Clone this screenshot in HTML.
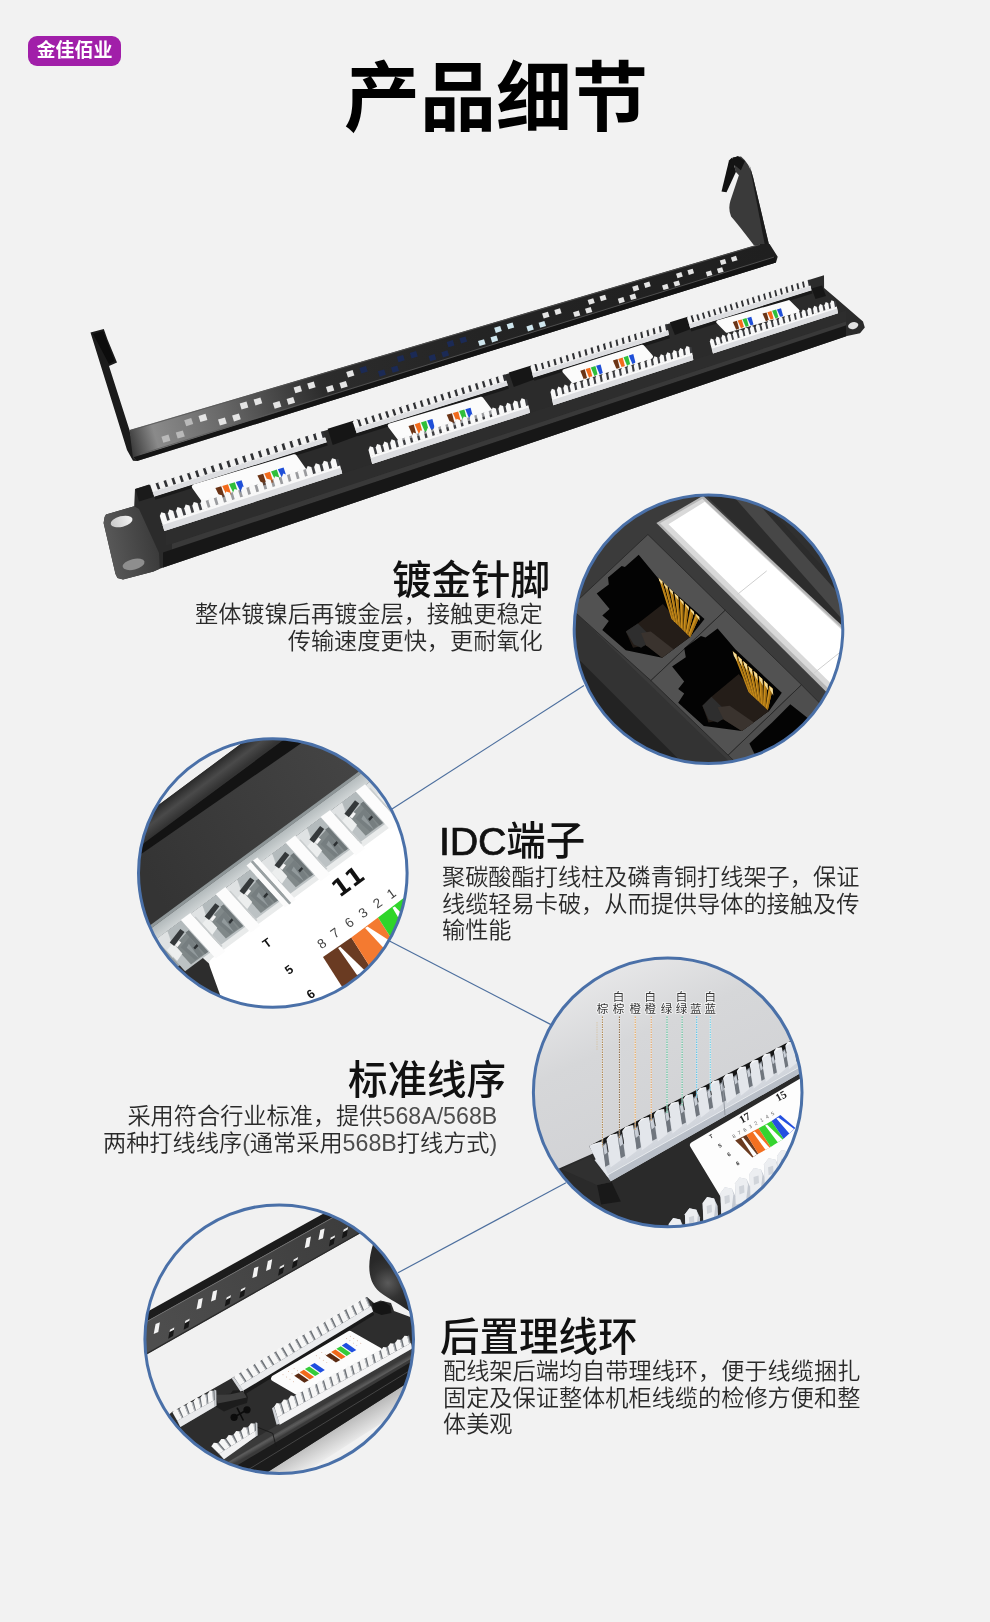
<!DOCTYPE html>
<html lang="zh-CN">
<head>
<meta charset="utf-8">
<title>产品细节</title>
<style>
html,body{margin:0;padding:0;}
body{width:990px;height:1622px;background:#f2f2f2;position:relative;overflow:hidden;font-family:"Liberation Sans","Noto Sans CJK SC",sans-serif;color:#222;}
.abs{position:absolute;will-change:transform;}
.badge{left:28px;top:36px;width:93px;height:30px;border-radius:9px;background:#a11fa9;color:#fff;font-weight:700;font-size:19px;line-height:30px;text-align:center;letter-spacing:0px;}
.title{left:1px;width:990px;top:43.5px;text-align:center;font-size:76px;line-height:110px;font-weight:700;color:#000;letter-spacing:0;}
.h{font-size:39.5px;line-height:48px;font-weight:500;color:#111;white-space:nowrap;}
.p{font-size:23.2px;line-height:26.7px;font-weight:350;color:#2a2a2a;white-space:nowrap;}
.r{text-align:right;}
.l{color:#4d4d4d;}
svg{position:absolute;left:0;top:0;will-change:transform;}
.wl{font-family:"Liberation Sans","Noto Sans CJK SC",sans-serif;font-size:11.5px;fill:#333;stroke:#fff;stroke-width:1.6px;stroke-opacity:.75;paint-order:stroke;}
</style>
</head>
<body>
<svg id="art" width="990" height="1622" viewBox="0 0 990 1622">
<defs>
<clipPath id="c1"><circle cx="708.5" cy="629.3" r="134"/></clipPath>
<clipPath id="c2"><circle cx="272.8" cy="873" r="134"/></clipPath>
<clipPath id="c3"><circle cx="667.7" cy="1092.4" r="134"/></clipPath>
<clipPath id="c4"><circle cx="279.2" cy="1339.2" r="134"/></clipPath>
<linearGradient id="barg" gradientUnits="userSpaceOnUse" x1="130" y1="445" x2="770" y2="255">
<stop offset="0" stop-color="#3a3a3a"/><stop offset="0.04" stop-color="#8a8a8a"/><stop offset="0.14" stop-color="#6a6a6a"/><stop offset="0.3" stop-color="#2c2c2c"/><stop offset="0.55" stop-color="#242424"/><stop offset="1" stop-color="#1f1f1f"/></linearGradient>
<linearGradient id="earg" gradientUnits="userSpaceOnUse" x1="104" y1="540" x2="160" y2="530">
<stop offset="0" stop-color="#5a5a5a"/><stop offset="1" stop-color="#383838"/></linearGradient>
<linearGradient id="holeg" gradientUnits="userSpaceOnUse" x1="110" y1="522" x2="133" y2="520">
<stop offset="0" stop-color="#c9c9c9"/><stop offset="1" stop-color="#f4f4f4"/></linearGradient>
<linearGradient id="c2face" gradientUnits="userSpaceOnUse" x1="150" y1="880" x2="380" y2="760">
<stop offset="0" stop-color="#343434"/><stop offset="1" stop-color="#464646"/></linearGradient>
<linearGradient id="c2strip" gradientUnits="userSpaceOnUse" x1="200" y1="775" x2="212" y2="791">
<stop offset="0" stop-color="#2c2c2c"/><stop offset="0.5" stop-color="#4a4a4a"/><stop offset="1" stop-color="#333"/></linearGradient>
<linearGradient id="c2wall" gradientUnits="userSpaceOnUse" x1="151" y1="924.6" x2="160" y2="936.7">
<stop offset="0" stop-color="#aab2b4"/><stop offset="1" stop-color="#cfd4d5"/></linearGradient>
<linearGradient id="c2cav" gradientUnits="userSpaceOnUse" x1="160" y1="936" x2="184" y2="969">
<stop offset="0" stop-color="#b4bbbd"/><stop offset="1" stop-color="#8b9395"/></linearGradient>
<linearGradient id="c3bg" gradientUnits="userSpaceOnUse" x1="600" y1="960" x2="700" y2="1180">
<stop offset="0" stop-color="#e9e9ea"/><stop offset="0.35" stop-color="#d6d7d9"/><stop offset="1" stop-color="#cfd0d3"/></linearGradient>
<linearGradient id="c3row" gradientUnits="userSpaceOnUse" x1="600" y1="1150" x2="620" y2="1186">
<stop offset="0" stop-color="#dfe2e7"/><stop offset="1" stop-color="#c6cbd3"/></linearGradient>
<linearGradient id="c4bar" gradientUnits="userSpaceOnUse" x1="150" y1="1330" x2="370" y2="1210">
<stop offset="0" stop-color="#4e4e4e"/><stop offset="1" stop-color="#3b3b3b"/></linearGradient>
<linearGradient id="c4sh" gradientUnits="userSpaceOnUse" x1="330" y1="1430" x2="343" y2="1452">
<stop offset="0" stop-color="#b9b9b9"/><stop offset="1" stop-color="#f1f1f1"/></linearGradient>
<linearGradient id="c4hl" gradientUnits="userSpaceOnUse" x1="330" y1="1400" x2="334" y2="1407">
<stop offset="0" stop-color="#3a3a3a"/><stop offset="0.5" stop-color="#5c5c5c"/><stop offset="1" stop-color="#3a3a3a"/></linearGradient>
<radialGradient id="c4br" gradientUnits="userSpaceOnUse" cx="388" cy="1283" r="26">
<stop offset="0" stop-color="#5a5a5a"/><stop offset="0.6" stop-color="#333"/><stop offset="1" stop-color="#282828"/></radialGradient>
</defs>
<!-- connector lines -->
<g stroke="#4d6f9e" stroke-width="1.2" fill="none">
<line x1="392" y1="809" x2="584" y2="685.5"/>
<line x1="389" y1="940.7" x2="551" y2="1024.6"/>
<line x1="398" y1="1272.8" x2="566" y2="1182.7"/>
</g>
<!-- PRODUCT -->
<g id="product">
<polygon points="90.5,332.5 103.8,329.1 107.5,339.5 117,362.4 109,366 129.5,430.1 137,461 133,460.8 127,450" fill="#1b1b1b"/>
<polygon points="93,334 103,331 114.5,361 109,364" fill="#0c0c0c"/>
<path d="M732.5,157.3 L741.0,156.6 Q749.5,163.3 753.0,177.1 L769.3,246.0 L753.7,245.0 Q738.5,224.8 731.1,216.4 Q727.9,208.9 730.4,200.8 L738.9,175.3 L735.7,171.8 Z" fill="#3a3a3a"/>
<polygon points="731.8,157.7 736,171.8 726.5,192.3 721.5,191.6 729,160.5" fill="#121212"/>
<path d="M749.5,164.7 L753.0,177.1 L769.3,246.0 L765.0,246.0 Z" fill="#1b1b1b"/>
<polygon points="730.8,158.9 737.9,156.1 744.9,161.3 740.9,170.2 734.8,165.2 730.3,168.7 728.8,168.2" fill="#141414"/>
<polygon points="129.5,430.1 759.5,244 769.6,244 777.7,256.7 776,262.5 772,263.7 137,461 133,458" fill="url(#barg)"/>
<polygon points="133.5,457.3 775,256.8 776,262.5 772,263.7 137,461" fill="#141414"/>
<line x1="140" y1="454.3" x2="774" y2="257.1" stroke="#5a5a5a" stroke-width="0.8"/>
<line x1="131" y1="430.3" x2="760" y2="244.5" stroke="#555" stroke-width="0.8"/>
<polygon points="184.2,420.2 191.2,418.1 193.2,424.1 186.2,426.2" fill="#b9b9b9"/>
<polygon points="198.5,415.9 205.5,413.8 207.4,419.9 200.4,422" fill="#e4e4e4"/>
<polygon points="239.7,403.6 246.5,401.6 248.3,407.5 241.5,409.5" fill="#e4e4e4"/>
<polygon points="253.6,399.5 260.4,397.5 262.3,403.3 255.5,405.4" fill="#e4e4e4"/>
<polygon points="293.6,387.6 300.2,385.6 302,391.3 295.4,393.3" fill="#e4e4e4"/>
<polygon points="307.2,383.6 313.8,381.6 315.6,387.3 309,389.3" fill="#e4e4e4"/>
<polygon points="346.2,371.9 352.6,370 354.4,375.5 348,377.4" fill="#e4e4e4"/>
<polygon points="359.5,368 365.9,366.1 367.7,371.6 361.3,373.5" fill="#1b2a55"/>
<polygon points="396.8,356.8 403.1,355 404.8,360.3 398.5,362.2" fill="#1b2a55"/>
<polygon points="409.8,353 416.1,351.1 417.8,356.5 411.5,358.4" fill="#1b2a55"/>
<polygon points="446.7,342 452.8,340.1 454.5,345.4 448.4,347.2" fill="#1b2a55"/>
<polygon points="459.4,338.2 465.5,336.4 467.2,341.6 461.1,343.5" fill="#1b2a55"/>
<polygon points="494.2,327.8 500.2,326 501.8,331.1 495.8,332.9" fill="#cfe6ee"/>
<polygon points="506.6,324.2 512.6,322.4 514.2,327.5 508.3,329.3" fill="#cfe6ee"/>
<polygon points="542.1,313.6 547.9,311.8 549.5,316.8 543.7,318.5" fill="#e4e4e4"/>
<polygon points="554.3,310 560,308.2 561.6,313.2 555.8,314.9" fill="#e4e4e4"/>
<polygon points="587.6,300 593.2,298.3 594.8,303.1 589.2,304.8" fill="#e4e4e4"/>
<polygon points="599.5,296.5 605.1,294.8 606.6,299.6 601,301.3" fill="#e4e4e4"/>
<polygon points="632.2,286.7 637.7,285.1 639.2,289.8 633.7,291.4" fill="#e4e4e4"/>
<polygon points="643.8,283.3 649.3,281.6 650.8,286.3 645.3,288" fill="#e4e4e4"/>
<polygon points="676,273.7 681.3,272.1 682.8,276.6 677.5,278.2" fill="#e4e4e4"/>
<polygon points="687.4,270.3 692.7,268.7 694.1,273.3 688.8,274.9" fill="#e4e4e4"/>
<polygon points="719.8,260.6 725,259.1 726.4,263.5 721.2,265.1" fill="#e4e4e4"/>
<polygon points="730.9,257.4 736,255.8 737.5,260.2 732.3,261.8" fill="#e4e4e4"/>
<polygon points="161.4,436.7 168.5,434.6 170.4,440.7 163.3,442.8" fill="#b9b9b9"/>
<polygon points="175.8,432.5 182.8,430.4 184.8,436.4 177.7,438.6" fill="#b9b9b9"/>
<polygon points="218,419.6 224.9,417.5 226.8,423.5 219.9,425.5" fill="#e4e4e4"/>
<polygon points="232.1,415.5 238.9,413.4 240.8,419.3 234,421.4" fill="#e4e4e4"/>
<polygon points="272.8,403 279.5,401 281.4,406.8 274.7,408.8" fill="#e4e4e4"/>
<polygon points="286.6,399 293.2,397 295.1,402.7 288.4,404.7" fill="#e4e4e4"/>
<polygon points="325.9,387 332.5,385 334.3,390.6 327.7,392.6" fill="#e4e4e4"/>
<polygon points="339.4,383 345.9,381 347.7,386.6 341.2,388.6" fill="#e4e4e4"/>
<polygon points="377.9,371.3 384.2,369.4 385.9,374.8 379.6,376.7" fill="#1b2a55"/>
<polygon points="391,367.4 397.3,365.5 399,370.9 392.7,372.8" fill="#1b2a55"/>
<polygon points="428.5,356 434.6,354.1 436.3,359.4 430.2,361.3" fill="#1b2a55"/>
<polygon points="441.3,352.2 447.4,350.3 449.1,355.6 443,357.5" fill="#1b2a55"/>
<polygon points="478,341 484,339.2 485.6,344.3 479.6,346.1" fill="#cfe6ee"/>
<polygon points="490.5,337.3 496.5,335.5 498.1,340.6 492.1,342.4" fill="#cfe6ee"/>
<polygon points="526.4,326.4 532.2,324.6 533.8,329.6 528,331.4" fill="#cfe6ee"/>
<polygon points="538.6,322.7 544.4,321 546,326 540.2,327.8" fill="#cfe6ee"/>
<polygon points="573.1,312.2 578.8,310.5 580.3,315.4 574.6,317.1" fill="#e4e4e4"/>
<polygon points="585,308.7 590.7,307 592.3,311.9 586.6,313.6" fill="#e4e4e4"/>
<polygon points="617.8,298.7 623.3,297.1 624.8,301.8 619.3,303.5" fill="#e4e4e4"/>
<polygon points="629.5,295.3 635,293.6 636.5,298.4 631,300" fill="#e4e4e4"/>
<polygon points="662,285.4 667.3,283.7 668.8,288.4 663.5,290" fill="#e4e4e4"/>
<polygon points="673.4,282 678.8,280.4 680.2,285 674.9,286.6" fill="#e4e4e4"/>
<polygon points="705.8,272.1 711,270.5 712.4,275 707.2,276.6" fill="#e4e4e4"/>
<polygon points="716.9,268.8 722.1,267.2 723.6,271.7 718.4,273.3" fill="#e4e4e4"/>
<polygon points="104.6,517 106,514.5 134.2,506.2 135,489 149,484.5 150,485.2 824,275.2 824.1,288 837,299 863,321.5 864.8,327.5 860,333.2 847,336 159.7,568.7 153.5,571.5 123,579.6 117.5,578 115.5,574 103.6,523" fill="#2b2b2b"/>
<polygon points="104.6,517 106,514.5 134.2,506.2 139,509 159,553 159.7,568.7 153.5,571.5 123,579.6 117.5,578 115.5,574 103.6,523" fill="url(#earg)"/>
<ellipse cx="121.6" cy="521.5" rx="11.2" ry="5.3" transform="rotate(-14 121.6 521.5)" fill="url(#holeg)"/>
<ellipse cx="133.6" cy="564.3" rx="11.2" ry="5.3" transform="rotate(-14 133.6 564.3)" fill="#8e8e8e"/>
<ellipse cx="853.2" cy="325.6" rx="5.2" ry="3.4" transform="rotate(-14 853.2 325.6)" fill="#e2e2e2"/>
<polygon points="166,530.6 846,310.6 846,321.4 166,545.7" fill="#2d2d2d"/>
<polygon points="172,543.7 846,321.4 846,325.5 172,549.5" fill="#393939"/>
<polygon points="163,552.5 846,325.5 846,336.3 163,567.6" fill="#171717"/>
<polygon points="150.2,484.9 323.4,430.9 325.3,437.6 152.6,491.6" fill="#33363b" fill-opacity="0.6"/>
<polygon points="150.4,485.4 151.9,482.3 155.4,483 158,490.1 152.6,491.7" fill="#f3f3f3"/>
<polygon points="158.2,483 159.8,479.8 163.3,480.5 165.8,487.6 160.5,489.3" fill="#f3f3f3"/>
<polygon points="166.1,480.5 167.7,477.4 171.2,478.1 173.7,485.2 168.3,486.8" fill="#f3f3f3"/>
<polygon points="174,478.1 175.5,474.9 179.1,475.6 181.5,482.7 176.2,484.4" fill="#f3f3f3"/>
<polygon points="181.8,475.6 183.4,472.5 186.9,473.2 189.4,480.2 184,481.9" fill="#f3f3f3"/>
<polygon points="189.7,473.2 191.3,470 194.8,470.7 197.2,477.8 191.9,479.5" fill="#f3f3f3"/>
<polygon points="197.6,470.7 199.2,467.6 202.7,468.2 205.1,475.3 199.7,477" fill="#f3f3f3"/>
<polygon points="205.5,468.3 207.1,465.1 210.5,465.8 212.9,472.9 207.6,474.5" fill="#f3f3f3"/>
<polygon points="213.3,465.8 214.9,462.7 218.4,463.3 220.8,470.4 215.4,472.1" fill="#f3f3f3"/>
<polygon points="221.2,463.4 222.8,460.2 226.3,460.9 228.6,468 223.3,469.6" fill="#f3f3f3"/>
<polygon points="229.1,460.9 230.7,457.7 234.2,458.4 236.4,465.5 231.1,467.2" fill="#f3f3f3"/>
<polygon points="236.9,458.4 238.6,455.3 242,456 244.3,463.1 239,464.7" fill="#f3f3f3"/>
<polygon points="244.8,456 246.5,452.8 249.9,453.5 252.1,460.6 246.8,462.3" fill="#f3f3f3"/>
<polygon points="252.7,453.5 254.3,450.4 257.8,451.1 260,458.1 254.7,459.8" fill="#f3f3f3"/>
<polygon points="260.5,451.1 262.2,447.9 265.7,448.6 267.8,455.7 262.5,457.4" fill="#f3f3f3"/>
<polygon points="268.4,448.6 270.1,445.5 273.5,446.2 275.7,453.2 270.4,454.9" fill="#f3f3f3"/>
<polygon points="276.3,446.2 278,443 281.4,443.7 283.5,450.8 278.2,452.4" fill="#f3f3f3"/>
<polygon points="284.2,443.7 285.8,440.6 289.3,441.3 291.4,448.3 286.1,450" fill="#f3f3f3"/>
<polygon points="292,441.3 293.7,438.1 297.1,438.8 299.2,445.9 293.9,447.5" fill="#f3f3f3"/>
<polygon points="299.9,438.8 301.6,435.7 305,436.3 307.1,443.4 301.7,445.1" fill="#f3f3f3"/>
<polygon points="307.8,436.4 309.5,433.2 312.9,433.9 314.9,440.9 309.6,442.6" fill="#f3f3f3"/>
<polygon points="315.6,433.9 317.4,430.8 320.8,431.4 322.8,438.5 317.4,440.2" fill="#f3f3f3"/>
<polygon points="152.5,491.3 325.2,437.3 326.7,442.6 154.4,496.7" fill="#f3f3f3"/>
<polygon points="152.8,492.1 325.4,438.1 326.7,442.6 154.4,496.7" fill="#dcdde0"/>
<polygon points="154.4,496.7 326.7,442.6 327.7,445.6 155.4,499.7" fill="#1a1a1a"/>
<polygon points="194.4,486.7 294.4,456.7 307.8,475.6 207.8,505.6" fill="#fbfbfb" stroke="#fbfbfb" stroke-width="5" stroke-linejoin="round"/>
<polygon points="215.4,488.1 221.2,486.3 224.6,496.8 220.5,498.6" fill="#6b3416"/>
<polygon points="222.2,486 228,484.3 231.4,494.8 227.3,496.5" fill="#f26a1b"/>
<polygon points="229,484 234.8,482.2 238.2,492.7 234.1,494.5" fill="#2fbf3a"/>
<polygon points="235.8,481.9 241.6,480.2 245,490.7 240.9,492.4" fill="#1f4fd8"/>
<polygon points="257.4,475.5 263.2,473.7 266.6,484.2 262.5,486" fill="#6b3416"/>
<polygon points="264.2,473.4 270,471.7 273.4,482.2 269.3,483.9" fill="#f26a1b"/>
<polygon points="271,471.4 276.8,469.6 280.2,480.1 276.1,481.9" fill="#2fbf3a"/>
<polygon points="277.8,469.3 283.6,467.6 287,478.1 282.9,479.8" fill="#1f4fd8"/>
<polygon points="159.6,515.4 338.3,458.7 340.2,465.8 161.9,522.9" fill="#4a4d52" fill-opacity="0.55"/>
<polygon points="159.8,516.1 161.3,512.2 165,513.3 167.4,521.3 161.9,523.1" fill="#f8f8f8"/>
<polygon points="167.9,513.6 169.4,509.6 173.1,510.8 175.5,518.7 170,520.5" fill="#f8f8f8"/>
<polygon points="176,511 177.5,507 181.2,508.2 183.6,516.1 178.1,517.9" fill="#f8f8f8"/>
<polygon points="184.2,508.4 185.7,504.4 189.4,505.6 191.7,513.5 186.2,515.3" fill="#f8f8f8"/>
<polygon points="192.3,505.8 193.8,501.9 197.5,503 199.9,510.9 194.3,512.7" fill="#f8f8f8"/>
<polygon points="200.4,503.3 201.9,499.3 205.6,500.4 208,508.3 202.4,510.1" fill="#f8f8f8"/>
<polygon points="208.5,500.7 210.1,496.7 213.7,497.9 216.1,505.8 210.6,507.5" fill="#f8f8f8"/>
<polygon points="216.6,498.1 218.2,494.2 221.9,495.3 224.2,503.2 218.7,504.9" fill="#f8f8f8"/>
<polygon points="224.8,495.5 226.3,491.6 230,492.7 232.3,500.6 226.8,502.3" fill="#f8f8f8"/>
<polygon points="232.9,492.9 234.5,489 238.1,490.1 240.4,498 234.9,499.7" fill="#f8f8f8"/>
<polygon points="241,490.4 242.6,486.4 246.2,487.6 248.5,495.4 243,497.1" fill="#f8f8f8"/>
<polygon points="249.1,487.8 250.7,483.9 254.4,485 256.6,492.8 251.1,494.5" fill="#f8f8f8"/>
<polygon points="257.3,485.2 258.9,481.3 262.5,482.4 264.7,490.2 259.2,491.9" fill="#f8f8f8"/>
<polygon points="265.4,482.6 267,478.7 270.6,479.8 272.8,487.6 267.3,489.3" fill="#f8f8f8"/>
<polygon points="273.5,480 275.1,476.2 278.8,477.3 280.9,485 275.4,486.8" fill="#f8f8f8"/>
<polygon points="281.6,477.5 283.3,473.6 286.9,474.7 289,482.4 283.5,484.2" fill="#f8f8f8"/>
<polygon points="289.8,474.9 291.4,471 295,472.1 297.1,479.8 291.6,481.6" fill="#f8f8f8"/>
<polygon points="297.9,472.3 299.5,468.4 303.1,469.5 305.2,477.2 299.7,479" fill="#f8f8f8"/>
<polygon points="306,469.7 307.7,465.9 311.3,467 313.3,474.6 307.8,476.4" fill="#f8f8f8"/>
<polygon points="314.1,467.1 315.8,463.3 319.4,464.4 321.4,472 315.9,473.8" fill="#f8f8f8"/>
<polygon points="322.3,464.6 323.9,460.7 327.5,461.8 329.5,469.4 324,471.2" fill="#f8f8f8"/>
<polygon points="330.4,462 332.1,458.2 335.6,459.2 337.6,466.8 332.1,468.6" fill="#f8f8f8"/>
<polygon points="161.8,522.6 340.1,465.5 342.2,473.6 164.4,531.1" fill="#f8f8f8"/>
<polygon points="162.5,525 340.7,467.8 342.2,473.6 164.4,531.1" fill="#dcdde0"/>
<polygon points="327.7,428.8 358.2,419.3 363.2,433.8 332.7,445.1" fill="#161616"/>
<polygon points="352.7,421.8 504.8,374.3 506.5,380.9 355,428.3" fill="#33363b" fill-opacity="0.6"/>
<polygon points="352.9,422.3 354.2,419.3 357.4,420 359.7,426.9 355,428.4" fill="#f3f3f3"/>
<polygon points="359.8,420.1 361.1,417.1 364.3,417.9 366.6,424.8 361.9,426.2" fill="#f3f3f3"/>
<polygon points="366.7,418 368.1,415 371.2,415.7 373.5,422.6 368.8,424.1" fill="#f3f3f3"/>
<polygon points="373.7,415.8 375,412.8 378.1,413.6 380.4,420.5 375.7,421.9" fill="#f3f3f3"/>
<polygon points="380.6,413.7 381.9,410.7 385,411.4 387.3,418.3 382.6,419.8" fill="#f3f3f3"/>
<polygon points="387.5,411.5 388.8,408.5 391.9,409.3 394.2,416.2 389.5,417.6" fill="#f3f3f3"/>
<polygon points="394.4,409.3 395.7,406.3 398.8,407.1 401,414 396.4,415.5" fill="#f3f3f3"/>
<polygon points="401.3,407.2 402.7,404.2 405.7,404.9 407.9,411.8 403.2,413.3" fill="#f3f3f3"/>
<polygon points="408.2,405 409.6,402 412.7,402.8 414.8,409.7 410.1,411.2" fill="#f3f3f3"/>
<polygon points="415.1,402.9 416.5,399.9 419.6,400.6 421.7,407.5 417,409" fill="#f3f3f3"/>
<polygon points="422,400.7 423.4,397.7 426.5,398.5 428.6,405.4 423.9,406.8" fill="#f3f3f3"/>
<polygon points="428.9,398.6 430.3,395.6 433.4,396.3 435.5,403.2 430.8,404.7" fill="#f3f3f3"/>
<polygon points="435.8,396.4 437.3,393.4 440.3,394.2 442.4,401.1 437.7,402.5" fill="#f3f3f3"/>
<polygon points="442.8,394.3 444.2,391.3 447.2,392 449.2,398.9 444.6,400.4" fill="#f3f3f3"/>
<polygon points="449.7,392.1 451.1,389.1 454.1,389.9 456.1,396.8 451.4,398.2" fill="#f3f3f3"/>
<polygon points="456.6,389.9 458,386.9 461,387.7 463,394.6 458.3,396.1" fill="#f3f3f3"/>
<polygon points="463.5,387.8 464.9,384.8 468,385.5 469.9,392.4 465.2,393.9" fill="#f3f3f3"/>
<polygon points="470.4,385.6 471.9,382.6 474.9,383.4 476.8,390.3 472.1,391.8" fill="#f3f3f3"/>
<polygon points="477.3,383.5 478.8,380.5 481.8,381.2 483.7,388.1 479,389.6" fill="#f3f3f3"/>
<polygon points="484.2,381.3 485.7,378.3 488.7,379.1 490.6,386 485.9,387.4" fill="#f3f3f3"/>
<polygon points="491.1,379.2 492.6,376.2 495.6,376.9 497.5,383.8 492.8,385.3" fill="#f3f3f3"/>
<polygon points="498,377 499.5,374 502.5,374.8 504.3,381.7 499.7,383.1" fill="#f3f3f3"/>
<polygon points="354.9,428 506.4,380.6 507.8,385.8 356.7,433.2" fill="#f3f3f3"/>
<polygon points="355.2,428.8 506.6,381.4 507.8,385.8 356.7,433.2" fill="#dcdde0"/>
<polygon points="356.7,433.2 507.8,385.8 508.8,388.8 357.7,436.2" fill="#1a1a1a"/>
<polygon points="390,425.6 481.1,398.9 491.1,412.2 400,438.9" fill="#fbfbfb" stroke="#fbfbfb" stroke-width="4.5" stroke-linejoin="round"/>
<polygon points="408.5,426 413.8,424.4 416.3,434 412.6,435.5" fill="#6b3416"/>
<polygon points="414.7,424.2 420,422.6 422.5,432.2 418.8,433.7" fill="#f26a1b"/>
<polygon points="420.9,422.4 426.2,420.8 428.7,430.4 425,431.9" fill="#2fbf3a"/>
<polygon points="427.1,420.5 432.4,419 434.9,428.6 431.2,430.1" fill="#1f4fd8"/>
<polygon points="446.7,414.8 452,413.2 454.5,422.8 450.8,424.3" fill="#6b3416"/>
<polygon points="452.9,413 458.2,411.4 460.7,421 457,422.5" fill="#f26a1b"/>
<polygon points="459.1,411.1 464.4,409.6 466.9,419.2 463.2,420.7" fill="#2fbf3a"/>
<polygon points="465.3,409.3 470.6,407.8 473.1,417.3 469.4,418.9" fill="#1f4fd8"/>
<polygon points="368.3,449.2 527.1,398.9 528.5,405.5 370.2,456.2" fill="#4a4d52" fill-opacity="0.55"/>
<polygon points="368.5,449.9 369.9,446.2 373.1,447.3 375.1,454.8 370.2,456.4" fill="#f8f8f8"/>
<polygon points="375.7,447.6 377.1,443.9 380.4,445 382.3,452.5 377.4,454.1" fill="#f8f8f8"/>
<polygon points="382.9,445.3 384.4,441.6 387.6,442.8 389.5,450.2 384.6,451.8" fill="#f8f8f8"/>
<polygon points="390.1,443 391.6,439.3 394.8,440.5 396.7,447.9 391.8,449.5" fill="#f8f8f8"/>
<polygon points="397.4,440.7 398.8,437.1 402,438.2 403.9,445.6 399,447.2" fill="#f8f8f8"/>
<polygon points="404.6,438.4 406,434.8 409.2,435.9 411.1,443.3 406.2,444.9" fill="#f8f8f8"/>
<polygon points="411.8,436.1 413.3,432.5 416.5,433.6 418.3,441 413.4,442.6" fill="#f8f8f8"/>
<polygon points="419,433.9 420.5,430.2 423.7,431.3 425.5,438.7 420.6,440.3" fill="#f8f8f8"/>
<polygon points="426.2,431.6 427.7,427.9 430.9,429 432.7,436.4 427.8,437.9" fill="#f8f8f8"/>
<polygon points="433.4,429.3 434.9,425.6 438.1,426.7 439.9,434.1 435,435.6" fill="#f8f8f8"/>
<polygon points="440.7,427 442.2,423.4 445.3,424.5 447.1,431.8 442.2,433.3" fill="#f8f8f8"/>
<polygon points="447.9,424.7 449.4,421.1 452.5,422.2 454.3,429.5 449.4,431" fill="#f8f8f8"/>
<polygon points="455.1,422.4 456.6,418.8 459.8,419.9 461.5,427.2 456.6,428.7" fill="#f8f8f8"/>
<polygon points="462.3,420.1 463.8,416.5 467,417.6 468.7,424.9 463.8,426.4" fill="#f8f8f8"/>
<polygon points="469.5,417.8 471.1,414.2 474.2,415.3 475.8,422.6 471,424.1" fill="#f8f8f8"/>
<polygon points="476.7,415.5 478.3,411.9 481.4,413 483,420.3 478.1,421.8" fill="#f8f8f8"/>
<polygon points="483.9,413.2 485.5,409.7 488.6,410.7 490.2,417.9 485.3,419.5" fill="#f8f8f8"/>
<polygon points="491.2,411 492.7,407.4 495.8,408.4 497.4,415.6 492.5,417.2" fill="#f8f8f8"/>
<polygon points="498.4,408.7 499.9,405.1 503.1,406.1 504.6,413.3 499.7,414.9" fill="#f8f8f8"/>
<polygon points="505.6,406.4 507.2,402.8 510.3,403.9 511.8,411 506.9,412.6" fill="#f8f8f8"/>
<polygon points="512.8,404.1 514.4,400.5 517.5,401.6 519,408.7 514.1,410.3" fill="#f8f8f8"/>
<polygon points="520,401.8 521.6,398.2 524.7,399.3 526.2,406.4 521.3,408" fill="#f8f8f8"/>
<polygon points="370.1,455.9 528.4,405.2 530,412.8 372.2,463.9" fill="#f8f8f8"/>
<polygon points="370.7,458.2 528.9,407.4 530,412.8 372.2,463.9" fill="#dcdde0"/>
<polygon points="508.8,372.4 536,363.9 541,376.9 513.8,387" fill="#161616"/>
<polygon points="530.4,366.4 667,323.8 668.1,330.3 532,372.9" fill="#33363b" fill-opacity="0.6"/>
<polygon points="530.5,366.9 531.8,364 534.6,364.8 536.3,371.7 532.1,373" fill="#f3f3f3"/>
<polygon points="536.7,364.9 538.1,362 540.8,362.9 542.5,369.7 538.3,371.1" fill="#f3f3f3"/>
<polygon points="542.9,363 544.3,360.1 547,360.9 548.6,367.8 544.4,369.1" fill="#f3f3f3"/>
<polygon points="549.1,361.1 550.5,358.1 553.2,359 554.8,365.9 550.6,367.2" fill="#f3f3f3"/>
<polygon points="555.4,359.1 556.7,356.2 559.4,357 561,363.9 556.8,365.3" fill="#f3f3f3"/>
<polygon points="561.6,357.2 562.9,354.3 565.6,355.1 567.2,362 563,363.3" fill="#f3f3f3"/>
<polygon points="567.8,355.3 569.1,352.3 571.8,353.2 573.4,360.1 569.2,361.4" fill="#f3f3f3"/>
<polygon points="574,353.3 575.3,350.4 578,351.2 579.6,358.1 575.4,359.5" fill="#f3f3f3"/>
<polygon points="580.2,351.4 581.6,348.5 584.2,349.3 585.7,356.2 581.5,357.5" fill="#f3f3f3"/>
<polygon points="586.4,349.5 587.8,346.5 590.4,347.4 591.9,354.3 587.7,355.6" fill="#f3f3f3"/>
<polygon points="592.6,347.5 594,344.6 596.6,345.4 598.1,352.3 593.9,353.6" fill="#f3f3f3"/>
<polygon points="598.8,345.6 600.2,342.7 602.8,343.5 604.3,350.4 600.1,351.7" fill="#f3f3f3"/>
<polygon points="605,343.7 606.4,340.7 609.1,341.6 610.5,348.5 606.3,349.8" fill="#f3f3f3"/>
<polygon points="611.2,341.7 612.6,338.8 615.3,339.6 616.7,346.5 612.4,347.8" fill="#f3f3f3"/>
<polygon points="617.4,339.8 618.8,336.9 621.5,337.7 622.8,344.6 618.6,345.9" fill="#f3f3f3"/>
<polygon points="623.6,337.9 625.1,334.9 627.7,335.8 629,342.7 624.8,344" fill="#f3f3f3"/>
<polygon points="629.8,335.9 631.3,333 633.9,333.8 635.2,340.7 631,342" fill="#f3f3f3"/>
<polygon points="636,334 637.5,331 640.1,331.9 641.4,338.8 637.2,340.1" fill="#f3f3f3"/>
<polygon points="642.2,332 643.7,329.1 646.3,330 647.6,336.9 643.4,338.2" fill="#f3f3f3"/>
<polygon points="648.4,330.1 649.9,327.2 652.5,328 653.7,334.9 649.5,336.2" fill="#f3f3f3"/>
<polygon points="654.6,328.2 656.1,325.2 658.7,326.1 659.9,333 655.7,334.3" fill="#f3f3f3"/>
<polygon points="660.8,326.2 662.3,323.3 664.9,324.1 666.1,331 661.9,332.4" fill="#f3f3f3"/>
<polygon points="532,372.6 668,330 668.9,335.2 533.3,377.8" fill="#f3f3f3"/>
<polygon points="532.2,373.4 668.2,330.8 668.9,335.2 533.3,377.8" fill="#dcdde0"/>
<polygon points="533.3,377.8 668.9,335.2 669.9,338.2 534.3,380.8" fill="#1a1a1a"/>
<polygon points="564.4,371.1 642.2,346.7 651,356.7 573.2,381.1" fill="#fbfbfb" stroke="#fbfbfb" stroke-width="4.1" stroke-linejoin="round"/>
<polygon points="580.3,370.8 584.8,369.3 587,378 583.8,379.4" fill="#6b3416"/>
<polygon points="585.6,369.1 590.1,367.7 592.3,376.3 589.1,377.7" fill="#f26a1b"/>
<polygon points="590.8,367.4 595.4,366 597.6,374.6 594.4,376.1" fill="#2fbf3a"/>
<polygon points="596.1,365.8 600.6,364.4 602.8,373 599.7,374.4" fill="#1f4fd8"/>
<polygon points="612.9,360.5 617.5,359.1 619.7,367.7 616.5,369.1" fill="#6b3416"/>
<polygon points="618.2,358.9 622.7,357.4 624.9,366.1 621.8,367.5" fill="#f26a1b"/>
<polygon points="623.5,357.2 628,355.8 630.2,364.4 627.1,365.8" fill="#2fbf3a"/>
<polygon points="628.8,355.5 633.3,354.1 635.5,362.7 632.4,364.1" fill="#1f4fd8"/>
<polygon points="550.4,391.5 691.4,346.8 692.3,353.1 551.8,398.1" fill="#4a4d52" fill-opacity="0.55"/>
<polygon points="550.5,392.1 551.9,388.7 554.7,389.8 556.2,396.8 551.8,398.2" fill="#f8f8f8"/>
<polygon points="556.9,390.1 558.3,386.6 561.1,387.8 562.5,394.8 558.2,396.2" fill="#f8f8f8"/>
<polygon points="563.3,388 564.7,384.6 567.5,385.7 568.9,392.7 564.6,394.1" fill="#f8f8f8"/>
<polygon points="569.7,386 571.1,382.6 573.9,383.7 575.3,390.7 571,392.1" fill="#f8f8f8"/>
<polygon points="576.2,384 577.6,380.5 580.3,381.7 581.7,388.7 577.4,390" fill="#f8f8f8"/>
<polygon points="582.6,381.9 584,378.5 586.7,379.6 588.1,386.6 583.7,388" fill="#f8f8f8"/>
<polygon points="589,379.9 590.4,376.5 593.1,377.6 594.5,384.6 590.1,386" fill="#f8f8f8"/>
<polygon points="595.4,377.9 596.8,374.5 599.5,375.6 600.9,382.5 596.5,383.9" fill="#f8f8f8"/>
<polygon points="601.8,375.8 603.2,372.4 606,373.5 607.2,380.5 602.9,381.9" fill="#f8f8f8"/>
<polygon points="608.2,373.8 609.6,370.4 612.4,371.5 613.6,378.4 609.3,379.8" fill="#f8f8f8"/>
<polygon points="614.6,371.8 616,368.4 618.8,369.5 620,376.4 615.7,377.8" fill="#f8f8f8"/>
<polygon points="621,369.7 622.5,366.4 625.2,367.4 626.4,374.3 622.1,375.7" fill="#f8f8f8"/>
<polygon points="627.4,367.7 628.9,364.3 631.6,365.4 632.8,372.3 628.4,373.7" fill="#f8f8f8"/>
<polygon points="633.8,365.7 635.3,362.3 638,363.4 639.2,370.3 634.8,371.6" fill="#f8f8f8"/>
<polygon points="640.2,363.6 641.7,360.3 644.4,361.3 645.6,368.2 641.2,369.6" fill="#f8f8f8"/>
<polygon points="646.6,361.6 648.1,358.2 650.8,359.3 651.9,366.2 647.6,367.6" fill="#f8f8f8"/>
<polygon points="653,359.6 654.5,356.2 657.2,357.3 658.3,364.1 654,365.5" fill="#f8f8f8"/>
<polygon points="659.4,357.5 660.9,354.2 663.6,355.2 664.7,362.1 660.4,363.5" fill="#f8f8f8"/>
<polygon points="665.8,355.5 667.4,352.2 670,353.2 671.1,360 666.8,361.4" fill="#f8f8f8"/>
<polygon points="672.2,353.5 673.8,350.1 676.5,351.2 677.5,358 673.2,359.4" fill="#f8f8f8"/>
<polygon points="678.6,351.4 680.2,348.1 682.9,349.2 683.9,355.9 679.5,357.3" fill="#f8f8f8"/>
<polygon points="685,349.4 686.6,346.1 689.3,347.1 690.3,353.9 685.9,355.3" fill="#f8f8f8"/>
<polygon points="551.7,397.8 692.2,352.8 693.3,360 553.3,405.3" fill="#f8f8f8"/>
<polygon points="552.2,400 692.6,354.9 693.3,360 553.3,405.3" fill="#dcdde0"/>
<polygon points="669.9,322.2 692.5,315.2 697.5,326.6 674.9,335.1" fill="#161616"/>
<polygon points="687,317.6 809.3,279.4 810.5,285.7 688.9,323.8" fill="#33363b" fill-opacity="0.6"/>
<polygon points="687.1,318.1 688.1,315.3 690.7,316.1 692.7,322.7 688.9,323.9" fill="#f3f3f3"/>
<polygon points="692.7,316.3 693.7,313.5 696.2,314.4 698.2,321 694.4,322.2" fill="#f3f3f3"/>
<polygon points="698.2,314.6 699.3,311.8 701.8,312.7 703.7,319.3 700,320.5" fill="#f3f3f3"/>
<polygon points="703.8,312.9 704.8,310.1 707.3,310.9 709.2,317.5 705.5,318.7" fill="#f3f3f3"/>
<polygon points="709.3,311.1 710.4,308.3 712.9,309.2 714.8,315.8 711,317" fill="#f3f3f3"/>
<polygon points="714.9,309.4 716,306.6 718.5,307.5 720.3,314.1 716.5,315.3" fill="#f3f3f3"/>
<polygon points="720.5,307.7 721.5,304.9 724,305.7 725.8,312.4 722.1,313.5" fill="#f3f3f3"/>
<polygon points="726,305.9 727.1,303.1 729.6,304 731.4,310.6 727.6,311.8" fill="#f3f3f3"/>
<polygon points="731.6,304.2 732.7,301.4 735.2,302.3 736.9,308.9 733.1,310.1" fill="#f3f3f3"/>
<polygon points="737.1,302.5 738.3,299.7 740.7,300.5 742.4,307.2 738.7,308.3" fill="#f3f3f3"/>
<polygon points="742.7,300.7 743.8,297.9 746.3,298.8 748,305.4 744.2,306.6" fill="#f3f3f3"/>
<polygon points="748.3,299 749.4,296.2 751.8,297.1 753.5,303.7 749.7,304.9" fill="#f3f3f3"/>
<polygon points="753.8,297.2 755,294.5 757.4,295.3 759,302 755.3,303.1" fill="#f3f3f3"/>
<polygon points="759.4,295.5 760.5,292.7 763,293.6 764.6,300.2 760.8,301.4" fill="#f3f3f3"/>
<polygon points="764.9,293.8 766.1,291 768.5,291.8 770.1,298.5 766.3,299.7" fill="#f3f3f3"/>
<polygon points="770.5,292 771.7,289.3 774.1,290.1 775.6,296.8 771.9,298" fill="#f3f3f3"/>
<polygon points="776,290.3 777.2,287.5 779.7,288.4 781.2,295 777.4,296.2" fill="#f3f3f3"/>
<polygon points="781.6,288.6 782.8,285.8 785.2,286.6 786.7,293.3 782.9,294.5" fill="#f3f3f3"/>
<polygon points="787.2,286.8 788.4,284.1 790.8,284.9 792.2,291.6 788.5,292.8" fill="#f3f3f3"/>
<polygon points="792.7,285.1 793.9,282.3 796.3,283.2 797.7,289.9 794,291" fill="#f3f3f3"/>
<polygon points="798.3,283.4 799.5,280.6 801.9,281.4 803.3,288.1 799.5,289.3" fill="#f3f3f3"/>
<polygon points="803.8,281.6 805.1,278.8 807.5,279.7 808.8,286.4 805,287.6" fill="#f3f3f3"/>
<polygon points="688.8,323.5 810.5,285.5 811.5,290.5 690.3,328.5" fill="#f3f3f3"/>
<polygon points="689,324.3 810.6,286.2 811.5,290.5 690.3,328.5" fill="#dcdde0"/>
<polygon points="690.3,328.5 811.5,290.5 812.5,293.5 691.3,331.5" fill="#1a1a1a"/>
<polygon points="718.1,322.1 788.8,301.9 797.6,310.7 726.9,330.9" fill="#fbfbfb" stroke="#fbfbfb" stroke-width="3.6" stroke-linejoin="round"/>
<polygon points="732.8,322 736.9,320.8 739.1,328.5 736.2,329.7" fill="#6b3416"/>
<polygon points="737.6,320.6 741.7,319.5 743.9,327.1 741,328.3" fill="#f26a1b"/>
<polygon points="742.4,319.3 746.5,318.1 748.7,325.8 745.8,326.9" fill="#2fbf3a"/>
<polygon points="747.2,317.9 751.3,316.7 753.5,324.4 750.6,325.6" fill="#1f4fd8"/>
<polygon points="762.5,313.5 766.6,312.4 768.8,320 765.9,321.2" fill="#6b3416"/>
<polygon points="767.3,312.2 771.4,311 773.6,318.6 770.7,319.8" fill="#f26a1b"/>
<polygon points="772.1,310.8 776.2,309.6 778.4,317.3 775.5,318.4" fill="#2fbf3a"/>
<polygon points="776.9,309.4 781,308.2 783.2,315.9 780.3,317.1" fill="#1f4fd8"/>
<polygon points="709.7,341 835.8,301 836.9,306.8 711.3,347" fill="#4a4d52" fill-opacity="0.55"/>
<polygon points="709.8,341.5 710.9,338.4 713.5,339.4 715.2,345.9 711.3,347.2" fill="#f8f8f8"/>
<polygon points="715.5,339.7 716.6,336.6 719.2,337.6 720.9,344.1 717,345.3" fill="#f8f8f8"/>
<polygon points="721.3,337.9 722.4,334.8 724.9,335.8 726.6,342.3 722.7,343.5" fill="#f8f8f8"/>
<polygon points="727,336.1 728.1,333 730.7,334 732.3,340.4 728.4,341.7" fill="#f8f8f8"/>
<polygon points="732.7,334.3 733.8,331.1 736.4,332.2 738,338.6 734.1,339.8" fill="#f8f8f8"/>
<polygon points="738.5,332.4 739.6,329.3 742.2,330.4 743.7,336.8 739.8,338" fill="#f8f8f8"/>
<polygon points="744.2,330.6 745.3,327.5 747.9,328.5 749.4,334.9 745.5,336.2" fill="#f8f8f8"/>
<polygon points="749.9,328.8 751.1,325.7 753.6,326.7 755.1,333.1 751.2,334.4" fill="#f8f8f8"/>
<polygon points="755.7,327 756.8,323.9 759.4,324.9 760.8,331.3 757,332.5" fill="#f8f8f8"/>
<polygon points="761.4,325.2 762.6,322.1 765.1,323.1 766.5,329.5 762.7,330.7" fill="#f8f8f8"/>
<polygon points="767.1,323.3 768.3,320.2 770.8,321.3 772.3,327.6 768.4,328.9" fill="#f8f8f8"/>
<polygon points="772.9,321.5 774,318.4 776.6,319.4 778,325.8 774.1,327" fill="#f8f8f8"/>
<polygon points="778.6,319.7 779.8,316.6 782.3,317.6 783.7,324 779.8,325.2" fill="#f8f8f8"/>
<polygon points="784.3,317.9 785.5,314.8 788,315.8 789.4,322.1 785.5,323.4" fill="#f8f8f8"/>
<polygon points="790,316.1 791.3,313 793.8,314 795.1,320.3 791.2,321.6" fill="#f8f8f8"/>
<polygon points="795.8,314.3 797,311.2 799.5,312.2 800.8,318.5 796.9,319.7" fill="#f8f8f8"/>
<polygon points="801.5,312.4 802.8,309.4 805.2,310.4 806.5,316.7 802.6,317.9" fill="#f8f8f8"/>
<polygon points="807.2,310.6 808.5,307.5 811,308.5 812.2,314.8 808.3,316.1" fill="#f8f8f8"/>
<polygon points="813,308.8 814.2,305.7 816.7,306.7 817.9,313 814,314.2" fill="#f8f8f8"/>
<polygon points="818.7,307 820,303.9 822.4,304.9 823.6,311.2 819.7,312.4" fill="#f8f8f8"/>
<polygon points="824.4,305.2 825.7,302.1 828.2,303.1 829.3,309.3 825.5,310.6" fill="#f8f8f8"/>
<polygon points="830.2,303.3 831.5,300.3 833.9,301.3 835,307.5 831.2,308.8" fill="#f8f8f8"/>
<polygon points="711.2,346.7 836.8,306.5 838,313.2 713,353.6" fill="#f8f8f8"/>
<polygon points="711.7,348.7 837.1,308.5 838,313.2 713,353.6" fill="#dcdde0"/>
<polygon points="135.5,489 149.5,484.8 153.5,497 139,501.5" fill="#1a1a1a"/>
<polygon points="811.5,288.5 822,285.5 826,296 815.5,299" fill="#161616"/>
</g>
<!-- CIRCLE1 -->
<g clip-path="url(#c1)">
<rect x="570" y="490" width="280" height="280" fill="#3b3b3b"/>
<polygon points="702.4,492.1 863,492.1 863,649.7 843.3,628.5" fill="#2c2c2c"/>
<polygon points="729.7,492.1 747.9,492.1 850.9,607.3 844.8,622.4" fill="#474747"/>
<polygon points="753.9,492.1 863,492.1 863,610.3" fill="#303030"/>
<polygon points="772.1,492.1 863,492.1 863,580" fill="#3a3a3a"/>
<polygon points="560,598.2 573.6,610.9 729.7,761.8 729.7,783 560,783" fill="#333333"/>
<polygon points="560,640.6 578.2,658.8 681.2,761.8 681.2,783 560,783" fill="#232323"/>
<polygon points="560,673.9 578.2,692.1 650.9,764.8 650.9,783 560,783" fill="#2e2e2e"/>
<polygon points="575.2,602.7 647.9,534.5 725.2,610.3 650.9,680.6 573.6,610.9" fill="#525252" stroke="#262626" stroke-width="0.8"/>
<polygon points="650.9,680.6 725.2,610.3 801.5,684.8 728.2,755.2" fill="#525252" stroke="#262626" stroke-width="0.8"/>
<polygon points="728.2,755.2 801.5,684.8 863,746.7 863,783 757,783" fill="#4e4e4e" stroke="#262626" stroke-width="0.8"/>
<polygon points="656.4,523 703,495.8 863,645.2 863,728.5" fill="#b5b5b5"/>
<polygon points="660,523.3 702.4,498.8 860,645.2 860,719.4" fill="#d9d9d9"/>
<polygon points="668.5,524.2 704.8,501.8 863,649.7 863,714.8" fill="#ffffff"/>
<polyline points="737.3,594.5 766.7,570.9" fill="none" stroke="#cfcfcf" stroke-width="1"/>
<polyline points="813,673.9 843.3,649.7" fill="none" stroke="#cfcfcf" stroke-width="1"/>
<polygon points="596.7,593.5 608.8,584.6 608,577.4 621.7,566.1 624.9,566.9 638.7,554.7 658.1,578.2 704.5,618.9 690.4,636.7 662.1,657.7 625.8,650.3 602.3,629.9 608.8,621 602.3,615.4 609.6,608.9" fill="#030303"/>
<polygon points="637.9,623.4 662.9,604 690.4,636.7 662.1,657.7 646,645.3 633,647.7 625.8,631.5" fill="#241d18"/>
<polygon points="625.8,631.5 637.9,623.4 654,639.6 641.1,647.7 633.8,644.4" fill="#2e2e2e"/>
<polygon points="641.1,633.1 650.8,631.5 673.4,649.3 662.1,657.7 646,645.3" fill="#3a332e"/>
<polygon points="672.1,666.4 685.8,657.3 684.2,648.2 700.9,636.1 705.5,637.6 717.6,628.5 735.8,649.7 781.8,692.7 769.1,710.9 741.8,730.9 703.9,726.1 678.2,702.7 684.2,693.6 678.2,689.1 684.2,681.5" fill="#030303"/>
<polygon points="711.5,696.7 738.8,673.9 769.1,710.9 741.8,730.9 723.6,719.4 708.5,722.4 702.4,705.8" fill="#241d18"/>
<polygon points="702.4,705.8 711.5,696.7 729.7,714.8 717.6,722.4 708.5,719.4" fill="#2e2e2e"/>
<polygon points="717.6,707.3 729.7,705.8 753.9,722.4 741.8,730.9 723.6,719.4" fill="#3a332e"/>
<polygon points="749.4,743.6 772.1,722.4 790.3,704.2 811.5,720.9 863,752.7 863,783 772.1,783 753.9,752.7" fill="#040404"/>
<polygon points="658.6,577.9 662.1,581.3 673.8,621 671.5,618.9" fill="#c98e1c"/>
<polygon points="660.5,579.7 662.1,581.3 673.8,621 672.7,620.1" fill="#a36f12"/>
<polygon points="658.6,577.9 662.1,581.3 662.4,584.8 659.2,580.4" fill="#f3dc9a"/>
<polygon points="663.9,583 667.4,586.4 676.1,623.3 673.8,621.2" fill="#c98e1c"/>
<polygon points="665.8,584.9 667.4,586.4 676.1,623.3 675.1,622.4" fill="#a36f12"/>
<polygon points="663.9,583 667.4,586.4 667.8,589.9 664.5,585.6" fill="#f3dc9a"/>
<polygon points="669.2,588.1 672.7,591.5 678.5,625.6 676.2,623.5" fill="#c98e1c"/>
<polygon points="671.1,590 672.7,591.5 678.5,625.6 677.4,624.7" fill="#a36f12"/>
<polygon points="669.2,588.1 672.7,591.5 673.1,595.1 669.8,590.7" fill="#f3dc9a"/>
<polygon points="674.5,593.2 678.1,596.6 680.8,627.9 678.6,625.8" fill="#c98e1c"/>
<polygon points="676.5,595.1 678.1,596.6 680.8,627.9 679.8,627" fill="#a36f12"/>
<polygon points="674.5,593.2 678.1,596.6 678.4,600.2 675.1,595.8" fill="#f3dc9a"/>
<polygon points="679.8,598.4 683.4,601.8 683.2,630.2 680.9,628.1" fill="#c98e1c"/>
<polygon points="681.8,600.2 683.4,601.8 683.2,630.2 682.2,629.3" fill="#a36f12"/>
<polygon points="679.8,598.4 683.4,601.8 683.7,605.3 680.5,600.9" fill="#f3dc9a"/>
<polygon points="685.1,603.5 688.7,606.9 685.5,632.6 683.3,630.5" fill="#c98e1c"/>
<polygon points="687.1,605.4 688.7,606.9 685.5,632.6 684.5,631.6" fill="#a36f12"/>
<polygon points="685.1,603.5 688.7,606.9 689,610.4 685.8,606.1" fill="#f3dc9a"/>
<polygon points="690.4,608.6 694,612 687.9,634.9 685.6,632.8" fill="#c98e1c"/>
<polygon points="692.4,610.5 694,612 687.9,634.9 686.9,633.9" fill="#a36f12"/>
<polygon points="690.4,608.6 694,612 694.3,615.6 691.1,611.2" fill="#f3dc9a"/>
<polygon points="695.7,613.7 699.3,617.1 690.2,637.2 688,635.1" fill="#c98e1c"/>
<polygon points="697.7,615.6 699.3,617.1 690.2,637.2 689.2,636.2" fill="#a36f12"/>
<polygon points="695.7,613.7 699.3,617.1 699.6,620.7 696.4,616.3" fill="#f3dc9a"/>
<polygon points="732.7,651.2 736.4,654.5 750.9,694.2 748.5,692.1" fill="#c98e1c"/>
<polygon points="734.7,653 736.4,654.5 750.9,694.2 749.8,693.3" fill="#a36f12"/>
<polygon points="732.7,651.2 736.4,654.5 737,661.2 733.9,656.1" fill="#f3dc9a"/>
<polygon points="737.9,656.1 741.6,659.4 753.3,696.5 750.9,694.4" fill="#c98e1c"/>
<polygon points="739.9,657.9 741.6,659.4 753.3,696.5 752.2,695.5" fill="#a36f12"/>
<polygon points="737.9,656.1 741.6,659.4 742.2,666.1 739.1,661" fill="#f3dc9a"/>
<polygon points="743.1,661 746.8,664.3 755.8,698.7 753.3,696.6" fill="#c98e1c"/>
<polygon points="745.1,662.8 746.8,664.3 755.8,698.7 754.7,697.8" fill="#a36f12"/>
<polygon points="743.1,661 746.8,664.3 747.4,671 744.3,665.8" fill="#f3dc9a"/>
<polygon points="748.3,665.9 751.9,669.2 758.2,701 755.8,698.9" fill="#c98e1c"/>
<polygon points="750.3,667.7 751.9,669.2 758.2,701 757.1,700" fill="#a36f12"/>
<polygon points="748.3,665.9 751.9,669.2 752.6,675.9 749.5,670.7" fill="#f3dc9a"/>
<polygon points="753.5,670.8 757.1,674.1 760.6,703.2 758.2,701.1" fill="#c98e1c"/>
<polygon points="755.5,672.6 757.1,674.1 760.6,703.2 759.5,702.3" fill="#a36f12"/>
<polygon points="753.5,670.8 757.1,674.1 757.7,680.8 754.7,675.6" fill="#f3dc9a"/>
<polygon points="758.7,675.7 762.3,679 763,705.5 760.6,703.4" fill="#c98e1c"/>
<polygon points="760.7,677.5 762.3,679 763,705.5 761.9,704.5" fill="#a36f12"/>
<polygon points="758.7,675.7 762.3,679 762.9,685.7 759.9,680.5" fill="#f3dc9a"/>
<polygon points="763.9,680.6 767.5,683.9 765.5,707.7 763,705.6" fill="#c98e1c"/>
<polygon points="765.9,682.4 767.5,683.9 765.5,707.7 764.4,706.8" fill="#a36f12"/>
<polygon points="763.9,680.6 767.5,683.9 768.1,690.6 765.1,685.4" fill="#f3dc9a"/>
<polygon points="769.1,685.5 772.7,688.8 767.9,710 765.5,707.9" fill="#c98e1c"/>
<polygon points="771.1,687.3 772.7,688.8 767.9,710 766.8,709" fill="#a36f12"/>
<polygon points="769.1,685.5 772.7,688.8 773.3,695.5 770.3,690.3" fill="#f3dc9a"/>
</g>
<!-- CIRCLE2 -->
<g clip-path="url(#c2)">
<rect x="135" y="735" width="280" height="280" fill="url(#c2face)"/>
<polygon points="121.9,721.9 275.5,721.9 259.3,730.2 130,826.2 121.9,833.4" fill="#f1f1f1"/>
<polygon points="130,826.2 259.3,730.2 291.6,733.7 130,853.3" fill="url(#c2strip)"/>
<polygon points="130,853.3 296.5,730.2 307.8,738.7 130,861.7" fill="#131313"/>
<polygon points="102.7,960.2 416.7,728.9 418.7,731.1 104.7,962.4" fill="#8e9698"/>
<polygon points="104.7,962.4 418.7,731.1 426.7,740 112.8,971.3" fill="url(#c2wall)"/>
<polygon points="112.8,971.3 426.7,740 455.6,771.9 141.7,1003.2" fill="#99a1a3"/>
<polygon points="140.3,1001.7 454.3,770.4 462.3,779.3 148.4,1010.6" fill="#e9ebeb"/>
<polygon points="136.3,997.2 191,956.9 202.9,958.1 384.8,1123.2 304.3,1182.5" fill="#2d2d2d"/>
<polygon points="216.3,963.8 538.3,726.6 738.3,1026.6 318.3,1245.8" fill="#ffffff" stroke="#ffffff" stroke-width="14" stroke-linejoin="round"/>
<polygon points="156.2,939.3 181.4,920.7 210.3,952.6 185.1,971.2" fill="#bcc2c4"/>
<polygon points="156.2,939.3 167.4,931 173.8,949.9 173,957.9" fill="#dfe2e3"/>
<polygon points="167.4,931 181.4,920.7 188.8,928.9 174.3,944.5" fill="#b3babc"/>
<polygon points="174.2,945.9 188.7,930.2 208.2,951.7 191,964.4" fill="#808889"/>
<polygon points="180.7,947.2 189.5,937 202.7,954.5 195.1,960.1" fill="#767e80"/>
<polygon points="186.7,947.8 188.9,943.7 198.7,957.5 198.3,957.7" fill="#929a9c"/>
<polygon points="185.5,932.6 188.7,930.2 208.2,951.7 205,954.1" fill="#6f7779"/>
<polygon points="167.1,949.9 173,943 182.4,953.4 177.1,961" fill="#eceeee"/>
<polygon points="169.7,942.4 180.3,929 184.5,932.1 174.2,945.9" fill="#34383a"/>
<polygon points="175,945.3 178.8,940.6 181.2,942.5 177.4,947.2" fill="#f4f4f4"/>
<polygon points="193.4,947.8 196.7,944.1 198.4,945.9 195,949.6" fill="#2c3032"/>
<polygon points="191.1,913.6 216.4,895 245.3,926.8 220,945.5" fill="#bcc2c4"/>
<polygon points="191.1,913.6 202.4,905.3 208.7,924.1 207.9,932.1" fill="#dfe2e3"/>
<polygon points="202.4,905.3 216.4,895 223.8,903.1 209.2,918.8" fill="#b3babc"/>
<polygon points="209.1,920.1 223.6,904.5 243.1,925.9 225.9,938.6" fill="#808889"/>
<polygon points="215.7,921.4 224.5,911.3 237.6,928.8 230.1,934.3" fill="#767e80"/>
<polygon points="221.6,922 223.8,917.9 233.6,931.7 233.3,932" fill="#929a9c"/>
<polygon points="220.4,906.8 223.6,904.5 243.1,925.9 239.9,928.3" fill="#6f7779"/>
<polygon points="202,924.1 207.9,917.3 217.3,927.7 212.1,935.2" fill="#eceeee"/>
<polygon points="204.6,916.6 215.3,903.2 219.4,906.3 209.1,920.1" fill="#34383a"/>
<polygon points="209.9,919.5 213.7,914.9 216.1,916.8 212.3,921.4" fill="#f4f4f4"/>
<polygon points="228.3,922 231.7,918.3 233.3,920.2 230,923.9" fill="#2c3032"/>
<polygon points="226,887.9 251.3,869.2 280.2,901.1 254.9,919.7" fill="#bcc2c4"/>
<polygon points="226,887.9 237.3,879.6 243.6,898.4 242.8,906.4" fill="#dfe2e3"/>
<polygon points="237.3,879.6 251.3,869.2 258.7,877.4 244.2,893" fill="#b3babc"/>
<polygon points="244,894.4 258.6,878.7 278.1,900.2 260.8,912.9" fill="#808889"/>
<polygon points="250.6,895.7 259.4,885.5 272.6,903 265,908.6" fill="#767e80"/>
<polygon points="256.5,896.3 258.7,892.2 268.5,906 268.2,906.2" fill="#929a9c"/>
<polygon points="255.4,881.1 258.6,878.7 278.1,900.2 274.8,902.6" fill="#6f7779"/>
<polygon points="236.9,898.4 242.8,891.6 252.2,901.9 247,909.5" fill="#eceeee"/>
<polygon points="239.5,890.9 250.2,877.5 254.4,880.6 244,894.4" fill="#34383a"/>
<polygon points="244.8,893.8 248.7,889.1 251.1,891 247.3,895.7" fill="#f4f4f4"/>
<polygon points="263.2,896.3 266.6,892.6 268.3,894.4 264.9,898.2" fill="#2c3032"/>
<polygon points="261,862.1 286.3,843.5 315.2,875.4 289.9,894" fill="#bcc2c4"/>
<polygon points="261,862.1 272.3,853.8 278.6,872.6 277.8,880.6" fill="#dfe2e3"/>
<polygon points="272.3,853.8 286.3,843.5 293.6,851.7 279.1,867.3" fill="#b3babc"/>
<polygon points="279,868.6 293.5,853 313,874.5 295.8,887.2" fill="#808889"/>
<polygon points="285.6,870 294.3,859.8 307.5,877.3 299.9,882.9" fill="#767e80"/>
<polygon points="291.5,870.6 293.7,866.5 303.5,880.3 303.2,880.5" fill="#929a9c"/>
<polygon points="290.3,855.4 293.5,853 313,874.5 309.8,876.8" fill="#6f7779"/>
<polygon points="271.9,872.6 277.8,865.8 287.2,876.2 281.9,883.8" fill="#eceeee"/>
<polygon points="274.5,865.2 285.1,851.7 289.3,854.9 279,868.6" fill="#34383a"/>
<polygon points="279.8,868 283.6,863.4 286,865.3 282.2,870" fill="#f4f4f4"/>
<polygon points="298.2,870.6 301.5,866.9 303.2,868.7 299.9,872.4" fill="#2c3032"/>
<polygon points="295.9,836.4 321.2,817.8 350.1,849.6 324.8,868.3" fill="#bcc2c4"/>
<polygon points="295.9,836.4 307.2,828.1 313.5,846.9 312.7,854.9" fill="#dfe2e3"/>
<polygon points="307.2,828.1 321.2,817.8 328.6,825.9 314,841.6" fill="#b3babc"/>
<polygon points="313.9,842.9 328.5,827.3 347.9,848.7 330.7,861.4" fill="#808889"/>
<polygon points="320.5,844.2 329.3,834.1 342.4,851.6 334.9,857.1" fill="#767e80"/>
<polygon points="326.4,844.8 328.6,840.7 338.4,854.5 338.1,854.8" fill="#929a9c"/>
<polygon points="325.2,829.6 328.5,827.3 347.9,848.7 344.7,851.1" fill="#6f7779"/>
<polygon points="306.8,846.9 312.7,840.1 322.1,850.5 316.9,858" fill="#eceeee"/>
<polygon points="309.4,839.4 320.1,826 324.2,829.1 313.9,842.9" fill="#34383a"/>
<polygon points="314.7,842.3 318.5,837.6 321,839.6 317.1,844.2" fill="#f4f4f4"/>
<polygon points="333.1,844.8 336.5,841.1 338.1,843 334.8,846.7" fill="#2c3032"/>
<polygon points="330.9,810.7 356.1,792 385,823.9 359.8,842.5" fill="#bcc2c4"/>
<polygon points="330.9,810.7 342.1,802.3 348.5,821.2 347.7,829.2" fill="#dfe2e3"/>
<polygon points="342.1,802.3 356.1,792 363.5,800.2 349,815.8" fill="#b3babc"/>
<polygon points="348.9,817.2 363.4,801.5 382.9,823 365.7,835.7" fill="#808889"/>
<polygon points="355.4,818.5 364.2,808.3 377.4,825.8 369.8,831.4" fill="#767e80"/>
<polygon points="361.3,819.1 363.5,815 373.4,828.8 373,829" fill="#929a9c"/>
<polygon points="360.2,803.9 363.4,801.5 382.9,823 379.7,825.4" fill="#6f7779"/>
<polygon points="341.7,821.2 347.6,814.4 357,824.7 351.8,832.3" fill="#eceeee"/>
<polygon points="344.4,813.7 355,800.3 359.2,803.4 348.9,817.2" fill="#34383a"/>
<polygon points="349.7,816.6 353.5,811.9 355.9,813.8 352.1,818.5" fill="#f4f4f4"/>
<polygon points="368.1,819.1 371.4,815.4 373.1,817.2 369.7,820.9" fill="#2c3032"/>
<polygon points="365.8,784.9 391.1,766.3 420,798.2 394.7,816.8" fill="#bcc2c4"/>
<polygon points="365.8,784.9 377.1,776.6 383.4,795.4 382.6,803.4" fill="#dfe2e3"/>
<polygon points="377.1,776.6 391.1,766.3 398.5,774.4 383.9,790.1" fill="#b3babc"/>
<polygon points="383.8,791.4 398.3,775.8 417.8,797.3 400.6,810" fill="#808889"/>
<polygon points="390.4,792.8 399.1,782.6 412.3,800.1 404.7,805.7" fill="#767e80"/>
<polygon points="396.3,793.4 398.5,789.3 408.3,803.1 408,803.3" fill="#929a9c"/>
<polygon points="395.1,778.2 398.3,775.8 417.8,797.3 414.6,799.6" fill="#6f7779"/>
<polygon points="376.7,795.4 382.6,788.6 392,799 386.8,806.6" fill="#eceeee"/>
<polygon points="379.3,788 389.9,774.5 394.1,777.6 383.8,791.4" fill="#34383a"/>
<polygon points="384.6,790.8 388.4,786.2 390.8,788.1 387,792.8" fill="#f4f4f4"/>
<polygon points="403,793.4 406.3,789.7 408,791.5 404.7,795.2" fill="#2c3032"/>
<polygon points="400.7,759.2 426,740.6 454.9,772.4 429.6,791" fill="#bcc2c4"/>
<polygon points="400.7,759.2 412,750.9 418.3,769.7 417.5,777.7" fill="#dfe2e3"/>
<polygon points="412,750.9 426,740.6 433.4,748.7 418.9,764.4" fill="#b3babc"/>
<polygon points="418.7,765.7 433.3,750 452.8,771.5 435.5,784.2" fill="#808889"/>
<polygon points="425.3,767 434.1,756.9 447.3,774.3 439.7,779.9" fill="#767e80"/>
<polygon points="431.2,767.6 433.4,763.5 443.2,777.3 442.9,777.6" fill="#929a9c"/>
<polygon points="430,752.4 433.3,750 452.8,771.5 449.5,773.9" fill="#6f7779"/>
<polygon points="411.6,769.7 417.5,762.9 426.9,773.3 421.7,780.8" fill="#eceeee"/>
<polygon points="414.2,762.2 424.9,748.8 429.1,751.9 418.7,765.7" fill="#34383a"/>
<polygon points="419.5,765.1 423.4,760.4 425.8,762.4 421.9,767" fill="#f4f4f4"/>
<polygon points="437.9,767.6 441.3,763.9 443,765.8 439.6,769.5" fill="#2c3032"/>
<polygon points="180.8,920 190.4,912.9 225.4,951.4 215.7,958.5" fill="#fcfcfc"/>
<polygon points="194.5,917.3 195.7,916.4 222.6,946.1 221.3,946.9" fill="#c9cdce"/>
<polygon points="215.7,894.2 225.4,887.1 260.3,925.7 250.7,932.8" fill="#fcfcfc"/>
<polygon points="229.4,891.6 230.6,890.7 257.5,920.3 256.3,921.2" fill="#c9cdce"/>
<polygon points="246.5,865.4 250.9,862.1 289.2,904.4 284.8,907.6" fill="#fbfbfb"/>
<polygon points="252.9,860.6 257.4,857.4 295.7,899.6 291.2,902.9" fill="#fbfbfb"/>
<polygon points="250.9,862.1 252.9,860.6 291.2,902.9 289.2,904.4" fill="#9aa1a3"/>
<polygon points="285.6,842.8 295.2,835.6 330.2,874.2 320.5,881.3" fill="#fcfcfc"/>
<polygon points="299.3,840.1 300.5,839.2 327.4,868.8 326.2,869.7" fill="#c9cdce"/>
<polygon points="320.5,817 330.2,809.9 365.1,848.4 355.5,855.6" fill="#fcfcfc"/>
<polygon points="334.2,814.4 335.4,813.5 362.3,843.1 361.1,844" fill="#c9cdce"/>
<polygon points="355.5,791.3 365.1,784.2 400.1,822.7 390.4,829.8" fill="#fcfcfc"/>
<polygon points="369.2,788.6 370.4,787.7 397.2,817.4 396,818.3" fill="#c9cdce"/>
<polygon points="390.4,765.6 400.1,758.4 435,797 425.3,804.1" fill="#fcfcfc"/>
<polygon points="404.1,762.9 405.3,762 432.2,791.6 431,792.5" fill="#c9cdce"/>
<polygon points="323,957 351.3,937.6 388.5,995.8 360.2,1015.2" fill="#6a3b22"/>
<polygon points="351.3,937.6 378,917.4 415.2,975.6 388.5,995.8" fill="#f47a30"/>
<polygon points="378,917.4 403,898.5 440.2,956.6 415.2,975.6" fill="#2fd52a"/>
<polygon points="403,898.5 428.1,879.4 465.3,937.6 440.2,956.6" fill="#2fd52a"/>
<polygon points="338.1,948.1 340.3,946.8 365.9,971.5 357,975.1" fill="#ffffff"/>
<polygon points="365.1,927.9 367.5,926.6 390.9,941.6 383.6,948.1" fill="#ffffff"/>
<polygon points="392.5,907.7 394.9,906.5 403,914.9 398.2,917.4" fill="#ffffff"/>
<polygon points="373.1,914.1 375.1,913.3 375.6,916.6" fill="#ffffff"/>
<text x="352.9" y="888.3" font-family="DejaVu Sans, sans-serif" font-size="24" font-weight="700" fill="#111" text-anchor="middle" transform="rotate(-36.4 352.9 888.3)">11</text>
<text x="269.7" y="946.5" font-family="Liberation Sans, sans-serif" font-size="12.5" font-weight="700" fill="#111" text-anchor="middle" transform="rotate(-36.4 269.7 946.5)">T</text>
<text x="291.5" y="973.1" font-family="Liberation Sans, sans-serif" font-size="12.5" font-weight="700" fill="#111" text-anchor="middle" transform="rotate(-36.4 291.5 973.1)">5</text>
<text x="313.3" y="997.4" font-family="Liberation Sans, sans-serif" font-size="12.5" font-weight="700" fill="#111" text-anchor="middle" transform="rotate(-36.4 313.3 997.4)">6</text>
<text x="324.6" y="947.3" font-family="Liberation Sans, sans-serif" font-size="13.5" font-weight="400" fill="#444" text-anchor="middle" transform="rotate(-36.4 324.6 947.3)">8</text>
<text x="337.9" y="936.8" font-family="Liberation Sans, sans-serif" font-size="13.5" font-weight="400" fill="#444" text-anchor="middle" transform="rotate(-36.4 337.9 936.8)">7</text>
<text x="352.1" y="926.3" font-family="Liberation Sans, sans-serif" font-size="13.5" font-weight="400" fill="#444" text-anchor="middle" transform="rotate(-36.4 352.1 926.3)">6</text>
<text x="365.9" y="916.6" font-family="Liberation Sans, sans-serif" font-size="13.5" font-weight="400" fill="#444" text-anchor="middle" transform="rotate(-36.4 365.9 916.6)">3</text>
<text x="380.4" y="906.9" font-family="Liberation Sans, sans-serif" font-size="13.5" font-weight="400" fill="#444" text-anchor="middle" transform="rotate(-36.4 380.4 906.9)">2</text>
<text x="394.1" y="897.2" font-family="Liberation Sans, sans-serif" font-size="13.5" font-weight="400" fill="#444" text-anchor="middle" transform="rotate(-36.4 394.1 897.2)">1</text>
</g>
<!-- CIRCLE3 -->
<g clip-path="url(#c3)">
<rect x="530" y="955" width="280" height="280" fill="url(#c3bg)"/>
<polygon points="555,1170.3 590.6,1154.6 640,1130 830,1030 830,1260 540,1260" fill="#2a2a2a"/>
<polygon points="597.1,1185 611.6,1182.1 620.8,1201.5 601.1,1204.4" fill="#191919"/>
<polygon points="561.5,1169.2 589.8,1156.3 611.6,1182.1 597.1,1185" fill="#303030"/>
<polygon points="693.5,1145.2 830,1065 880,1134 746,1232" fill="#fdfdfd" stroke="#fdfdfd" stroke-width="7" stroke-linejoin="round"/>
<polygon points="735.2,1140.4 746.5,1134.7 758.3,1153.8 752.4,1157.4" fill="#6a3a1f"/>
<polygon points="746.5,1134.7 758.6,1128.3 770.7,1146.9 758.3,1153.8" fill="#f37021"/>
<polygon points="758.6,1128.3 771.5,1121 783.6,1138.8 770.7,1146.9" fill="#35d42f"/>
<polygon points="771.5,1121 780.4,1115 795.4,1128 783.6,1138.8" fill="#2550e0"/>
<polygon points="741.3,1138.3 743.2,1137.5 757,1154.5 753.4,1156.7" fill="#fff"/>
<polygon points="752.9,1132.3 754.9,1131.4 769.6,1147.7 765.4,1149.8" fill="#fff"/>
<polygon points="765.1,1125.4 767,1124.4 782.5,1139.6 777.7,1142.3" fill="#fff"/>
<polygon points="776.4,1118.6 778.3,1117.5 794.1,1129.1 789.3,1133.5" fill="#fff"/>
<text x="746.5" y="1121" font-family="Liberation Serif, serif" font-size="11" font-weight="700" fill="#222" text-anchor="middle" transform="rotate(-29 746.5 1121)">17</text>
<text x="782.8" y="1099.2" font-family="Liberation Serif, serif" font-size="11" font-weight="700" fill="#222" text-anchor="middle" transform="rotate(-29 782.8 1099.2)">15</text>
<text x="712" y="1138" font-family="Liberation Sans, sans-serif" font-size="5.5" font-weight="700" fill="#333" text-anchor="middle" transform="rotate(-29 712 1138)">T</text>
<text x="720.9" y="1147.2" font-family="Liberation Sans, sans-serif" font-size="5.5" font-weight="700" fill="#333" text-anchor="middle" transform="rotate(-29 720.9 1147.2)">5</text>
<text x="729.8" y="1156.1" font-family="Liberation Sans, sans-serif" font-size="5.5" font-weight="700" fill="#333" text-anchor="middle" transform="rotate(-29 729.8 1156.1)">6</text>
<text x="738.7" y="1165" font-family="Liberation Sans, sans-serif" font-size="5.5" font-weight="700" fill="#333" text-anchor="middle" transform="rotate(-29 738.7 1165)">8</text>
<text x="734.7" y="1137.7" font-family="Liberation Sans, sans-serif" font-size="5.2" font-weight="400" fill="#666" text-anchor="middle" transform="rotate(-29 734.7 1137.7)">8</text>
<text x="740.2" y="1134.4" font-family="Liberation Sans, sans-serif" font-size="5.2" font-weight="400" fill="#666" text-anchor="middle" transform="rotate(-29 740.2 1134.4)">7</text>
<text x="745.8" y="1131.2" font-family="Liberation Sans, sans-serif" font-size="5.2" font-weight="400" fill="#666" text-anchor="middle" transform="rotate(-29 745.8 1131.2)">6</text>
<text x="751.3" y="1128" font-family="Liberation Sans, sans-serif" font-size="5.2" font-weight="400" fill="#666" text-anchor="middle" transform="rotate(-29 751.3 1128)">3</text>
<text x="756.8" y="1124.7" font-family="Liberation Sans, sans-serif" font-size="5.2" font-weight="400" fill="#666" text-anchor="middle" transform="rotate(-29 756.8 1124.7)">2</text>
<text x="762.4" y="1121.5" font-family="Liberation Sans, sans-serif" font-size="5.2" font-weight="400" fill="#666" text-anchor="middle" transform="rotate(-29 762.4 1121.5)">1</text>
<text x="767.9" y="1118.3" font-family="Liberation Sans, sans-serif" font-size="5.2" font-weight="400" fill="#666" text-anchor="middle" transform="rotate(-29 767.9 1118.3)">4</text>
<text x="773.5" y="1115" font-family="Liberation Sans, sans-serif" font-size="5.2" font-weight="400" fill="#666" text-anchor="middle" transform="rotate(-29 773.5 1115)">5</text>
<polygon points="589,1146 830,1020.3 830,1056.4 610.8,1181.3 603,1170" fill="#151515"/>
<polygon points="594.5,1160 830,1029.3 830,1056.4 610.8,1181.3" fill="url(#c3row)"/>
<polygon points="607,1175.5 830,1050.2 830,1056.4 610.8,1181.3" fill="#b9bfc8"/>
<line x1="607" y1="1175.3" x2="830" y2="1050" stroke="#eef0f3" stroke-width="0.8"/>
<polygon points="602,1145.2 606.5,1141.9 609.5,1164.5 605,1166.9" fill="#70767e"/>
<polygon points="603.2,1146.2 605.9,1143.4 607.5,1152.4 604.6,1154.8" fill="#c9ced6"/>
<polygon points="589,1145.8 593.5,1144 602,1141.4 605.5,1168.4 609.5,1178 607,1176 596,1160" fill="#e3e6eb"/>
<polygon points="589,1145.8 593.5,1144 602,1141.4 595.9,1144.2" fill="#f4f5f7"/>
<polygon points="617.4,1137.2 622.1,1133.7 625.1,1155.9 620.4,1158.4" fill="#70767e"/>
<polygon points="618.6,1138.2 621.5,1135.2 623.1,1144.1 620,1146.5" fill="#c9ced6"/>
<polygon points="606.5,1139.4 609.9,1135.3 617.4,1133.4 620.9,1159.9 610.5,1167.6 608,1147.9" fill="#e3e6eb"/>
<polygon points="606.5,1139.4 609.9,1135.3 617.4,1133.4 611.2,1136.2" fill="#f4f5f7"/>
<polygon points="633.2,1128.9 638,1125.4 641,1147.2 636.2,1149.7" fill="#70767e"/>
<polygon points="634.4,1129.9 637.4,1126.9 639,1135.5 635.8,1138" fill="#c9ced6"/>
<polygon points="622.1,1131.2 625.6,1127.1 633.2,1125.1 636.7,1151.1 626.1,1159 623.6,1139.7" fill="#e3e6eb"/>
<polygon points="622.1,1131.2 625.6,1127.1 633.2,1125.1 626.9,1127.9" fill="#f4f5f7"/>
<polygon points="649.1,1120.7 653.8,1117.2 656.8,1138.5 652.1,1141" fill="#70767e"/>
<polygon points="650.3,1121.7 653.2,1118.7 654.8,1127 651.7,1129.5" fill="#c9ced6"/>
<polygon points="638,1122.9 641.5,1118.8 649.1,1116.9 652.6,1142.4 642,1150.2 639.5,1131.4" fill="#e3e6eb"/>
<polygon points="638,1122.9 641.5,1118.8 649.1,1116.9 642.7,1119.7" fill="#f4f5f7"/>
<polygon points="664.1,1112.8 668.5,1109.5 671.5,1130.4 667.1,1132.7" fill="#70767e"/>
<polygon points="665.3,1113.8 667.9,1111 669.5,1119.1 666.7,1121.4" fill="#c9ced6"/>
<polygon points="653.8,1114.7 657,1110.6 664.1,1109 667.6,1134.1 657.8,1141.5 655.3,1123.2" fill="#e3e6eb"/>
<polygon points="653.8,1114.7 657,1110.6 664.1,1109 658.2,1111.8" fill="#f4f5f7"/>
<polygon points="678.6,1105.2 683,1102 686,1122.4 681.6,1124.7" fill="#70767e"/>
<polygon points="679.9,1106.2 682.4,1103.5 684,1111.3 681.2,1113.5" fill="#c9ced6"/>
<polygon points="668.5,1107 671.7,1102.9 678.6,1101.4 682.1,1126.1 672.5,1133.4 670,1115.5" fill="#e3e6eb"/>
<polygon points="668.5,1107 671.7,1102.9 678.6,1101.4 672.9,1104.2" fill="#f4f5f7"/>
<polygon points="692.7,1097.9 696.8,1094.8 699.8,1114.8 695.7,1117" fill="#70767e"/>
<polygon points="693.9,1098.9 696.2,1096.3 697.8,1103.8 695.3,1106" fill="#c9ced6"/>
<polygon points="683,1099.5 686,1095.4 692.7,1094.1 696.2,1118.3 687,1125.4 684.5,1108" fill="#e3e6eb"/>
<polygon points="683,1099.5 686,1095.4 692.7,1094.1 687.1,1096.9" fill="#f4f5f7"/>
<polygon points="706.1,1090.9 710.1,1087.8 713.1,1107.5 709.1,1109.6" fill="#70767e"/>
<polygon points="707.3,1091.9 709.5,1089.3 711.1,1096.7 708.7,1098.8" fill="#c9ced6"/>
<polygon points="696.8,1092.3 699.7,1088.2 706.1,1087.1 709.6,1110.9 700.8,1117.8 698.3,1100.8" fill="#e3e6eb"/>
<polygon points="696.8,1092.3 699.7,1088.2 706.1,1087.1 700.8,1089.9" fill="#f4f5f7"/>
<polygon points="719.1,1084.1 723,1081.1 726,1100.4 722.1,1102.4" fill="#70767e"/>
<polygon points="720.3,1085.1 722.4,1082.6 724,1089.7 721.7,1091.8" fill="#c9ced6"/>
<polygon points="710.1,1085.3 712.9,1081.2 719.1,1080.3 722.6,1103.7 714.1,1110.4 711.6,1093.8" fill="#e3e6eb"/>
<polygon points="710.1,1085.3 712.9,1081.2 719.1,1080.3 714,1083.1" fill="#f4f5f7"/>
<polygon points="732.7,1077.1 736.8,1073.9 739.8,1092.8 735.7,1095" fill="#70767e"/>
<polygon points="733.9,1078.1 736.2,1075.4 737.8,1082.3 735.3,1084.5" fill="#c9ced6"/>
<polygon points="723,1078.6 726,1074.5 732.7,1073.3 736.2,1096.3 727,1103.3 724.5,1087.1" fill="#e3e6eb"/>
<polygon points="723,1078.6 726,1074.5 732.7,1073.3 727.1,1076.1" fill="#f4f5f7"/>
<polygon points="745.8,1070.2 749.7,1067.2 752.7,1085.7 748.8,1087.7" fill="#70767e"/>
<polygon points="747,1071.2 749.1,1068.7 750.7,1075.4 748.4,1077.4" fill="#c9ced6"/>
<polygon points="736.8,1071.4 739.6,1067.3 745.8,1066.4 749.3,1089 740.8,1095.7 738.3,1079.9" fill="#e3e6eb"/>
<polygon points="736.8,1071.4 739.6,1067.3 745.8,1066.4 740.7,1069.2" fill="#f4f5f7"/>
<polygon points="758.2,1063.8 761.8,1060.9 764.8,1079 761.2,1080.9" fill="#70767e"/>
<polygon points="759.4,1064.8 761.2,1062.4 762.8,1068.8 760.8,1070.7" fill="#c9ced6"/>
<polygon points="749.7,1064.7 752.4,1060.6 758.2,1060 761.7,1082.2 753.7,1088.6 751.2,1073.2" fill="#e3e6eb"/>
<polygon points="749.7,1064.7 752.4,1060.6 758.2,1060 753.3,1062.8" fill="#f4f5f7"/>
<polygon points="770.3,1057.4 773.9,1054.6 776.9,1072.4 773.3,1074.2" fill="#70767e"/>
<polygon points="771.5,1058.4 773.3,1056.1 774.9,1062.3 772.9,1064.2" fill="#c9ced6"/>
<polygon points="761.8,1058.4 764.5,1054.3 770.3,1053.6 773.8,1075.5 765.8,1081.9 763.3,1066.9" fill="#e3e6eb"/>
<polygon points="761.8,1058.4 764.5,1054.3 770.3,1053.6 765.4,1056.4" fill="#f4f5f7"/>
<polygon points="781.9,1051.4 785.3,1048.6 788.3,1066.1 784.9,1067.9" fill="#70767e"/>
<polygon points="783.1,1052.4 784.7,1050.1 786.3,1056.2 784.5,1058" fill="#c9ced6"/>
<polygon points="773.9,1052.1 776.4,1048 781.9,1047.6 785.4,1069.1 777.9,1075.2 775.4,1060.6" fill="#e3e6eb"/>
<polygon points="773.9,1052.1 776.4,1048 781.9,1047.6 777.3,1050.4" fill="#f4f5f7"/>
<polygon points="793.1,1045.5 796.5,1042.8 799.5,1059.9 796.1,1061.7" fill="#70767e"/>
<polygon points="794.3,1046.5 795.9,1044.3 797.5,1050.2 795.7,1051.9" fill="#c9ced6"/>
<polygon points="785.3,1046.1 787.8,1042 793.1,1041.7 796.6,1062.9 789.3,1069 786.8,1054.6" fill="#e3e6eb"/>
<polygon points="785.3,1046.1 787.8,1042 793.1,1041.7 788.7,1044.5" fill="#f4f5f7"/>
<polygon points="804.2,1039.8 807.5,1037 810.5,1053.8 807.2,1055.6" fill="#70767e"/>
<polygon points="805.4,1040.8 806.9,1038.5 808.5,1044.2 806.8,1046" fill="#c9ced6"/>
<polygon points="796.5,1040.3 798.9,1036.2 804.2,1036 807.7,1056.8 800.5,1062.8 798,1048.8" fill="#e3e6eb"/>
<polygon points="796.5,1040.3 798.9,1036.2 804.2,1036 799.8,1038.8" fill="#f4f5f7"/>
<polygon points="814.9,1034.2 818,1031.6 821,1048.1 817.9,1049.7" fill="#70767e"/>
<polygon points="816.1,1035.2 817.4,1033.1 819,1038.6 817.5,1040.2" fill="#c9ced6"/>
<polygon points="807.5,1034.5 809.8,1030.4 814.9,1030.4 818.4,1050.9 811.5,1056.7 809,1043" fill="#e3e6eb"/>
<polygon points="807.5,1034.5 809.8,1030.4 814.9,1030.4 810.6,1033.2" fill="#f4f5f7"/>
<line x1="722.2" y1="1079.6" x2="725" y2="1115.2" stroke="#8d939b" stroke-width="0.9"/>
<line x1="602.4" y1="1016.5" x2="602.4" y2="1147" stroke="#ffffff" stroke-width="1.6" opacity="0.55"/>
<line x1="602.4" y1="1016.5" x2="602.4" y2="1147" stroke="#b08a55" stroke-width="1.1" stroke-dasharray="1.6 0.9"/>
<line x1="619.4" y1="1016.5" x2="619.4" y2="1138.1" stroke="#ffffff" stroke-width="1.6" opacity="0.55"/>
<line x1="619.4" y1="1016.5" x2="619.4" y2="1138.1" stroke="#8e6d48" stroke-width="1.1" stroke-dasharray="1.6 0.9"/>
<line x1="635.2" y1="1016.5" x2="635.2" y2="1129.9" stroke="#ffffff" stroke-width="1.6" opacity="0.55"/>
<line x1="635.2" y1="1016.5" x2="635.2" y2="1129.9" stroke="#e2a256" stroke-width="1.1" stroke-dasharray="1.6 0.9"/>
<line x1="651.2" y1="1016.5" x2="651.2" y2="1121.6" stroke="#ffffff" stroke-width="1.6" opacity="0.55"/>
<line x1="651.2" y1="1016.5" x2="651.2" y2="1121.6" stroke="#dfa060" stroke-width="1.1" stroke-dasharray="1.6 0.9"/>
<line x1="667" y1="1016.5" x2="667" y2="1113.3" stroke="#ffffff" stroke-width="1.6" opacity="0.55"/>
<line x1="667" y1="1016.5" x2="667" y2="1113.3" stroke="#4fb890" stroke-width="1.1" stroke-dasharray="1.6 0.9"/>
<line x1="682.1" y1="1016.5" x2="682.1" y2="1105.4" stroke="#ffffff" stroke-width="1.6" opacity="0.55"/>
<line x1="682.1" y1="1016.5" x2="682.1" y2="1105.4" stroke="#56b894" stroke-width="1.1" stroke-dasharray="1.6 0.9"/>
<line x1="696.7" y1="1016.5" x2="696.7" y2="1097.8" stroke="#ffffff" stroke-width="1.6" opacity="0.55"/>
<line x1="696.7" y1="1016.5" x2="696.7" y2="1097.8" stroke="#55c0e6" stroke-width="1.1" stroke-dasharray="1.6 0.9"/>
<line x1="710.3" y1="1016.5" x2="710.3" y2="1090.7" stroke="#ffffff" stroke-width="1.6" opacity="0.55"/>
<line x1="710.3" y1="1016.5" x2="710.3" y2="1090.7" stroke="#6fd0e8" stroke-width="1.1" stroke-dasharray="1.6 0.9"/>
<line x1="597" y1="1022" x2="597" y2="1050" stroke="#d5b98a" stroke-width="0.6" stroke-dasharray="1.4 1"/>
<text x="602.4" y="1012.6" text-anchor="middle" class="wl">棕</text>
<text x="618.5" y="1012.6" text-anchor="middle" class="wl">棕</text>
<text x="618.5" y="1000.8" text-anchor="middle" class="wl">白</text>
<text x="635.2" y="1012.6" text-anchor="middle" class="wl">橙</text>
<text x="650.3" y="1012.6" text-anchor="middle" class="wl">橙</text>
<text x="650.3" y="1000.8" text-anchor="middle" class="wl">白</text>
<text x="666.4" y="1012.6" text-anchor="middle" class="wl">绿</text>
<text x="681.5" y="1012.6" text-anchor="middle" class="wl">绿</text>
<text x="681.5" y="1000.8" text-anchor="middle" class="wl">白</text>
<text x="695.8" y="1012.6" text-anchor="middle" class="wl">蓝</text>
<text x="710.3" y="1012.6" text-anchor="middle" class="wl">蓝</text>
<text x="710.3" y="1000.8" text-anchor="middle" class="wl">白</text>
<polygon points="668.7,1224 673.2,1218 680.2,1219.5 683.7,1227 684.7,1248 669.7,1252" fill="#c4c9d1"/>
<polygon points="668.7,1224 673.2,1218 680.2,1219.5 681.7,1225 679.7,1242 669.7,1245" fill="#eceef1"/>
<polygon points="672.7,1227 677.7,1225.5 678.2,1233 673.2,1235" fill="#d0d4da"/>
<polygon points="684.9,1214.3 689.4,1208.3 696.4,1209.8 699.9,1217.3 700.9,1238.3 685.9,1242.3" fill="#c4c9d1"/>
<polygon points="684.9,1214.3 689.4,1208.3 696.4,1209.8 697.9,1215.3 695.9,1232.3 685.9,1235.3" fill="#eceef1"/>
<polygon points="688.9,1217.3 693.9,1215.8 694.4,1223.3 689.4,1225.3" fill="#d0d4da"/>
<polygon points="702.6,1203 707.1,1197 714.1,1198.5 717.6,1206 718.6,1227 703.6,1231" fill="#c4c9d1"/>
<polygon points="702.6,1203 707.1,1197 714.1,1198.5 715.6,1204 713.6,1221 703.6,1224" fill="#eceef1"/>
<polygon points="706.6,1206 711.6,1204.5 712.1,1212 707.1,1214" fill="#d0d4da"/>
<polygon points="720.4,1193.3 724.9,1187.3 731.9,1188.8 735.4,1196.3 736.4,1217.3 721.4,1221.3" fill="#c4c9d1"/>
<polygon points="720.4,1193.3 724.9,1187.3 731.9,1188.8 733.4,1194.3 731.4,1211.3 721.4,1214.3" fill="#eceef1"/>
<polygon points="724.4,1196.3 729.4,1194.8 729.9,1202.3 724.9,1204.3" fill="#d0d4da"/>
<polygon points="735,1183.6 739.5,1177.6 746.5,1179.1 750,1186.6 751,1207.6 736,1211.6" fill="#c4c9d1"/>
<polygon points="735,1183.6 739.5,1177.6 746.5,1179.1 748,1184.6 746,1201.6 736,1204.6" fill="#eceef1"/>
<polygon points="739,1186.6 744,1185.1 744.5,1192.6 739.5,1194.6" fill="#d0d4da"/>
<polygon points="749.5,1173.9 754,1167.9 761,1169.4 764.5,1176.9 765.5,1197.9 750.5,1201.9" fill="#c4c9d1"/>
<polygon points="749.5,1173.9 754,1167.9 761,1169.4 762.5,1174.9 760.5,1191.9 750.5,1194.9" fill="#eceef1"/>
<polygon points="753.5,1176.9 758.5,1175.4 759,1182.9 754,1184.9" fill="#d0d4da"/>
<polygon points="764.1,1164.2 768.6,1158.2 775.6,1159.7 779.1,1167.2 780.1,1188.2 765.1,1192.2" fill="#c4c9d1"/>
<polygon points="764.1,1164.2 768.6,1158.2 775.6,1159.7 777.1,1165.2 775.1,1182.2 765.1,1185.2" fill="#eceef1"/>
<polygon points="768.1,1167.2 773.1,1165.7 773.6,1173.2 768.6,1175.2" fill="#d0d4da"/>
<polygon points="777,1156.1 781.5,1150.1 788.5,1151.6 792,1159.1 793,1180.1 778,1184.1" fill="#c4c9d1"/>
<polygon points="777,1156.1 781.5,1150.1 788.5,1151.6 790,1157.1 788,1174.1 778,1177.1" fill="#eceef1"/>
<polygon points="781,1159.1 786,1157.6 786.5,1165.1 781.5,1167.1" fill="#d0d4da"/>
<polygon points="790,1148 794.5,1142 801.5,1143.5 805,1151 806,1172 791,1176" fill="#c4c9d1"/>
<polygon points="790,1148 794.5,1142 801.5,1143.5 803,1149 801,1166 791,1169" fill="#eceef1"/>
<polygon points="794,1151 799,1149.5 799.5,1157 794.5,1159" fill="#d0d4da"/>
<polygon points="803,1140 807.5,1134 814.5,1135.5 818,1143 819,1164 804,1168" fill="#c4c9d1"/>
<polygon points="803,1140 807.5,1134 814.5,1135.5 816,1141 814,1158 804,1161" fill="#eceef1"/>
<polygon points="807,1143 812,1141.5 812.5,1149 807.5,1151" fill="#d0d4da"/>
</g>
<!-- CIRCLE4 -->
<g clip-path="url(#c4)">
<rect x="140" y="1200" width="280" height="280" fill="#f1f1f1"/>
<polygon points="230,1492 430,1366 430,1392 262,1500" fill="url(#c4sh)"/>
<polygon points="130,1321.3 372,1186.6 372,1195.6 130,1330.8" fill="#1c1c1c"/>
<polygon points="130,1330.8 372,1195.6 372,1226.5 130,1363.8" fill="url(#c4bar)"/>
<line x1="130" y1="1330.9" x2="372" y2="1195.7" stroke="#6e6e6e" stroke-width="0.9"/>
<line x1="130" y1="1363.2" x2="372" y2="1225.9" stroke="#2a2a2a" stroke-width="1.2"/>
<polygon points="139.2,1341.9 141.1,1331.9 145.4,1330.3 143.8,1340.1" fill="#f3f3f3"/>
<polygon points="153.7,1333.9 155.6,1323.9 159.9,1322.3 158.3,1332.1" fill="#f3f3f3"/>
<polygon points="196.5,1309.6 198.4,1299.6 202.7,1298 201.1,1307.8" fill="#f3f3f3"/>
<polygon points="211,1301.6 212.9,1291.6 217.2,1290 215.6,1299.8" fill="#f3f3f3"/>
<polygon points="252.3,1278.1 254.2,1268.1 258.5,1266.5 256.9,1276.3" fill="#f3f3f3"/>
<polygon points="266,1270.9 267.9,1260.9 272.2,1259.3 270.6,1269.1" fill="#f3f3f3"/>
<polygon points="304.7,1248.2 306.6,1238.2 310.9,1236.6 309.3,1246.4" fill="#f3f3f3"/>
<polygon points="318.4,1240.1 320.3,1230.1 324.6,1228.5 323,1238.3" fill="#f3f3f3"/>
<polygon points="354.7,1219.4 356.6,1209.4 360.9,1207.8 359.3,1217.6" fill="#f3f3f3"/>
<polygon points="367.7,1212.4 369.6,1202.4 373.9,1200.8 372.3,1210.6" fill="#f3f3f3"/>
<polygon points="168.2,1338.7 169.9,1329.7 174.4,1327.3 173.1,1336.1" fill="#161616"/>
<polygon points="169.9,1329.7 174.4,1327.3 174,1329.7 169.5,1332.1" fill="#e8e8e8"/>
<polygon points="183.6,1329.8 185.3,1320.8 189.8,1318.4 188.5,1327.2" fill="#161616"/>
<polygon points="185.3,1320.8 189.8,1318.4 189.4,1320.8 184.9,1323.2" fill="#e8e8e8"/>
<polygon points="224.8,1306.4 226.5,1297.4 231,1295 229.7,1303.8" fill="#161616"/>
<polygon points="226.5,1297.4 231,1295 230.6,1297.4 226.1,1299.8" fill="#e8e8e8"/>
<polygon points="239.3,1298.3 241,1289.3 245.5,1286.9 244.2,1295.7" fill="#161616"/>
<polygon points="241,1289.3 245.5,1286.9 245.1,1289.3 240.6,1291.7" fill="#e8e8e8"/>
<polygon points="278.1,1275.7 279.8,1266.7 284.3,1264.3 283,1273.1" fill="#161616"/>
<polygon points="279.8,1266.7 284.3,1264.3 283.9,1266.7 279.4,1269.1" fill="#e8e8e8"/>
<polygon points="291.9,1268.4 293.6,1259.4 298.1,1257 296.8,1265.8" fill="#161616"/>
<polygon points="293.6,1259.4 298.1,1257 297.7,1259.4 293.2,1261.8" fill="#e8e8e8"/>
<polygon points="328.9,1246.6 330.6,1237.6 335.1,1235.2 333.8,1244" fill="#161616"/>
<polygon points="330.6,1237.6 335.1,1235.2 334.7,1237.6 330.2,1240" fill="#e8e8e8"/>
<polygon points="341.9,1238.5 343.6,1229.5 348.1,1227.1 346.8,1235.9" fill="#161616"/>
<polygon points="343.6,1229.5 348.1,1227.1 347.7,1229.5 343.2,1231.9" fill="#e8e8e8"/>
<path d="M373.4,1243 C367.5,1262 366.5,1281 380,1292.3 C390,1300 401,1304.5 412,1313.5 L440,1335 L440,1225 Z" fill="url(#c4br)"/>
<polygon points="130,1448 172,1412 233,1377.5 367,1297 374,1303 380.5,1300.5 391,1303 394,1311 409,1316.5 440,1330 440,1362 404.1,1385 270,1470.6 230,1496 130,1496" fill="#2d2d2d"/>
<polygon points="180,1483.3 440,1327.9 440,1344.8 180,1499.5" fill="#3a3a3a"/>
<polygon points="180,1490.6 440,1335.5 440,1341.4 180,1496.3" fill="url(#c4hl)"/>
<polygon points="180,1499.5 440,1344.8 440,1362.1 180,1528" fill="#1b1b1b"/>
<line x1="180" y1="1511.5" x2="440" y2="1352.1" stroke="#4a4a4a" stroke-width="0.9"/>
<polyline points="253.1,1425.4 272.8,1433.4 276.1,1446.7" fill="none" stroke="#1a1a1a" stroke-width="0.9"/>
<polygon points="215.2,1394.6 230.5,1393.8 232.9,1390.6 245.1,1390.1 248,1397.6 247,1403.1 237,1406 224,1411.6 216,1406.8" fill="#1c1c1c"/>
<polygon points="216,1394.6 230.5,1394.2 243.4,1391.4 246.7,1397.6 230.5,1401.1 217.6,1403.5" fill="#3e3e3e"/>
<circle cx="234.1" cy="1417.3" r="3.6" fill="#0c0c0c"/>
<circle cx="247" cy="1409.8" r="3.6" fill="#0c0c0c"/>
<polyline points="234.1,1417.3 247,1409.8" fill="none" stroke="#0c0c0c" stroke-width="1.6"/>
<polyline points="237,1407.6 243.4,1420.5" fill="none" stroke="#0c0c0c" stroke-width="1.6"/>
<polygon points="372.1,1303.4 383.9,1301.5 390.4,1305.9 391.5,1313.1 381.5,1315.1 373.4,1311.8" fill="#151515"/>
<polygon points="172.3,1412.3 214.3,1390.1 214.8,1406.8 180.4,1427" fill="#6d7176"/>
<polygon points="172.6,1412.4 174.9,1408.9 177.5,1409.3 181.9,1418.3 177.3,1420.8" fill="#f6f6f6"/>
<polygon points="177.5,1409.3 178.4,1409.5 182.8,1418.3 181.9,1418.3" fill="#c5c8cc"/>
<polygon points="179.6,1408.7 181.9,1405.2 184.5,1405.6 188.1,1414.8 183.5,1417.4" fill="#f6f6f6"/>
<polygon points="184.5,1405.6 185.4,1405.8 189,1414.8 188.1,1414.8" fill="#c5c8cc"/>
<polygon points="186.6,1405 188.9,1401.5 191.5,1401.9 194.4,1411.3 189.8,1413.9" fill="#f6f6f6"/>
<polygon points="191.5,1401.9 192.4,1402.1 195.3,1411.3 194.4,1411.3" fill="#c5c8cc"/>
<polygon points="193.6,1401.3 195.9,1397.8 198.5,1398.2 200.6,1407.8 196,1410.4" fill="#f6f6f6"/>
<polygon points="198.5,1398.2 199.4,1398.4 201.5,1407.8 200.6,1407.8" fill="#c5c8cc"/>
<polygon points="200.6,1397.6 202.9,1394.1 205.5,1394.5 206.8,1404.3 202.2,1406.9" fill="#f6f6f6"/>
<polygon points="205.5,1394.5 206.4,1394.7 207.7,1404.3 206.8,1404.3" fill="#c5c8cc"/>
<polygon points="207.6,1393.9 209.9,1390.4 212.5,1390.8 213,1400.8 208.4,1403.4" fill="#f6f6f6"/>
<polygon points="212.5,1390.8 213.4,1391 213.9,1400.8 213,1400.8" fill="#c5c8cc"/>
<polygon points="177.3,1420.8 214.6,1399.9 214.8,1406.8 180.4,1427" fill="#e9eaec"/>
<polygon points="214.3,1389.6 216.3,1390.5 216.6,1405.8 214.8,1406.8" fill="#c9ccd0"/>
<polygon points="233.7,1376.8 367,1296.9 373.4,1312.5 243.4,1391.6" fill="#6d7176"/>
<polygon points="234,1376.9 236.3,1373.2 238.9,1373.4 244.8,1382.3 239.7,1385.4" fill="#f6f6f6"/>
<polygon points="238.9,1373.4 239.8,1373.6 245.7,1382.3 244.8,1382.3" fill="#c5c8cc"/>
<polygon points="241,1372.7 243.3,1369 245.9,1369.2 251.7,1378.1 246.6,1381.2" fill="#f6f6f6"/>
<polygon points="245.9,1369.2 246.8,1369.4 252.6,1378.1 251.7,1378.1" fill="#c5c8cc"/>
<polygon points="248,1368.5 250.3,1364.8 252.9,1365 258.6,1374 253.5,1377" fill="#f6f6f6"/>
<polygon points="252.9,1365 253.8,1365.2 259.5,1374 258.6,1374" fill="#c5c8cc"/>
<polygon points="255,1364.3 257.3,1360.6 259.9,1360.8 265.6,1369.8 260.4,1372.9" fill="#f6f6f6"/>
<polygon points="259.9,1360.8 260.8,1361 266.5,1369.8 265.6,1369.8" fill="#c5c8cc"/>
<polygon points="262.1,1360.1 264.4,1356.4 267,1356.6 272.5,1365.6 267.3,1368.7" fill="#f6f6f6"/>
<polygon points="267,1356.6 267.9,1356.8 273.4,1365.6 272.5,1365.6" fill="#c5c8cc"/>
<polygon points="269.1,1355.9 271.4,1352.2 274,1352.4 279.4,1361.4 274.3,1364.5" fill="#f6f6f6"/>
<polygon points="274,1352.4 274.9,1352.6 280.3,1361.4 279.4,1361.4" fill="#c5c8cc"/>
<polygon points="276.1,1351.7 278.4,1348 281,1348.2 286.3,1357.2 281.2,1360.3" fill="#f6f6f6"/>
<polygon points="281,1348.2 281.9,1348.4 287.2,1357.2 286.3,1357.2" fill="#c5c8cc"/>
<polygon points="283.1,1347.5 285.4,1343.8 288,1344 293.2,1353.1 288.1,1356.2" fill="#f6f6f6"/>
<polygon points="288,1344 288.9,1344.2 294.1,1353.1 293.2,1353.1" fill="#c5c8cc"/>
<polygon points="290.1,1343.3 292.4,1339.6 295,1339.7 300.1,1348.9 295,1352" fill="#f6f6f6"/>
<polygon points="295,1339.7 295.9,1339.9 301,1348.9 300.1,1348.9" fill="#c5c8cc"/>
<polygon points="297.1,1339.1 299.4,1335.4 302,1335.5 307,1344.7 301.9,1347.8" fill="#f6f6f6"/>
<polygon points="302,1335.5 302.9,1335.7 307.9,1344.7 307,1344.7" fill="#c5c8cc"/>
<polygon points="304.2,1334.8 306.5,1331.2 309,1331.3 313.9,1340.5 308.8,1343.6" fill="#f6f6f6"/>
<polygon points="309,1331.3 309.9,1331.5 314.8,1340.5 313.9,1340.5" fill="#c5c8cc"/>
<polygon points="311.2,1330.6 313.5,1327 316.1,1327.1 320.8,1336.3 315.7,1339.4" fill="#f6f6f6"/>
<polygon points="316.1,1327.1 317,1327.3 321.7,1336.3 320.8,1336.3" fill="#c5c8cc"/>
<polygon points="318.2,1326.4 320.5,1322.8 323.1,1322.9 327.7,1332.2 322.6,1335.3" fill="#f6f6f6"/>
<polygon points="323.1,1322.9 324,1323.1 328.6,1332.2 327.7,1332.2" fill="#c5c8cc"/>
<polygon points="325.2,1322.2 327.5,1318.6 330.1,1318.7 334.6,1328 329.5,1331.1" fill="#f6f6f6"/>
<polygon points="330.1,1318.7 331,1318.9 335.5,1328 334.6,1328" fill="#c5c8cc"/>
<polygon points="332.2,1318 334.5,1314.4 337.1,1314.5 341.5,1323.8 336.4,1326.9" fill="#f6f6f6"/>
<polygon points="337.1,1314.5 338,1314.7 342.4,1323.8 341.5,1323.8" fill="#c5c8cc"/>
<polygon points="339.2,1313.8 341.5,1310.2 344.1,1310.3 348.4,1319.6 343.3,1322.7" fill="#f6f6f6"/>
<polygon points="344.1,1310.3 345,1310.5 349.3,1319.6 348.4,1319.6" fill="#c5c8cc"/>
<polygon points="346.3,1309.6 348.5,1306 351.1,1306.1 355.4,1315.4 350.2,1318.5" fill="#f6f6f6"/>
<polygon points="351.1,1306.1 352,1306.3 356.3,1315.4 355.4,1315.4" fill="#c5c8cc"/>
<polygon points="353.3,1305.4 355.6,1301.8 358.2,1301.9 362.3,1311.3 357.2,1314.4" fill="#f6f6f6"/>
<polygon points="358.2,1301.9 359.1,1302.1 363.2,1311.3 362.3,1311.3" fill="#c5c8cc"/>
<polygon points="360.3,1301.2 362.6,1297.5 365.2,1297.7 369.2,1307.1 364.1,1310.2" fill="#f6f6f6"/>
<polygon points="365.2,1297.7 366.1,1297.9 370.1,1307.1 369.2,1307.1" fill="#c5c8cc"/>
<polygon points="239.7,1385.4 371,1306 373.4,1312.5 243.4,1391.6" fill="#ebecee"/>
<polygon points="233.7,1377 231.8,1378.5 240.5,1391.5 243.4,1390.6" fill="#d4d6da"/>
<polygon points="243.4,1390.6 373.4,1311.5 374,1315 245,1394.2" fill="#1a1a1a"/>
<polygon points="274.1,1378.4 349.8,1333.8 378.9,1350.3 303.7,1395.6" fill="#fcfcfc" stroke="#fcfcfc" stroke-width="6" stroke-linejoin="round"/>
<polygon points="294.2,1375.7 298.6,1373.2 308.8,1380.3 304.4,1382.8" fill="#5a2a12"/>
<polygon points="299.6,1372.3 303.9,1369.8 314.1,1376.9 309.8,1379.5" fill="#f26a1b"/>
<polygon points="304.9,1368.9 309.3,1366.4 319.5,1373.5 315.1,1376.1" fill="#35cc3a"/>
<polygon points="310.2,1365.6 314.6,1363 324.8,1370.1 320.4,1372.7" fill="#1f4fe0"/>
<polygon points="325.8,1355.5 330.1,1352.9 340.3,1360.1 335.9,1362.6" fill="#5a2a12"/>
<polygon points="331.1,1352.1 335.5,1349.6 345.6,1356.7 341.3,1359.3" fill="#f26a1b"/>
<polygon points="336.4,1348.7 340.8,1346.2 351,1353.3 346.6,1355.9" fill="#35cc3a"/>
<polygon points="341.8,1345.4 346.1,1342.8 356.3,1349.9 351.9,1352.5" fill="#1f4fe0"/>
<circle cx="283" cy="1374.7" r="0.45" fill="#c48a6a"/>
<circle cx="286.5" cy="1377" r="0.45" fill="#c48a6a"/>
<circle cx="290" cy="1379.3" r="0.45" fill="#c48a6a"/>
<circle cx="293.5" cy="1381.7" r="0.45" fill="#c48a6a"/>
<circle cx="288.6" cy="1371.5" r="0.45" fill="#c48a6a"/>
<circle cx="292" cy="1373.8" r="0.45" fill="#c48a6a"/>
<circle cx="295.5" cy="1376.2" r="0.45" fill="#c48a6a"/>
<circle cx="299" cy="1378.5" r="0.45" fill="#c48a6a"/>
<circle cx="294.1" cy="1368.4" r="0.45" fill="#c48a6a"/>
<circle cx="297.6" cy="1370.7" r="0.45" fill="#c48a6a"/>
<circle cx="301.1" cy="1373" r="0.45" fill="#c48a6a"/>
<circle cx="304.6" cy="1375.3" r="0.45" fill="#c48a6a"/>
<circle cx="316.3" cy="1355.7" r="0.45" fill="#c48a6a"/>
<circle cx="319.8" cy="1358" r="0.45" fill="#c48a6a"/>
<circle cx="323.3" cy="1360.3" r="0.45" fill="#c48a6a"/>
<circle cx="326.8" cy="1362.6" r="0.45" fill="#c48a6a"/>
<circle cx="321.8" cy="1352.5" r="0.45" fill="#c48a6a"/>
<circle cx="325.3" cy="1354.8" r="0.45" fill="#c48a6a"/>
<circle cx="328.8" cy="1357.1" r="0.45" fill="#c48a6a"/>
<circle cx="332.3" cy="1359.5" r="0.45" fill="#c48a6a"/>
<circle cx="346.4" cy="1338.5" r="0.45" fill="#c48a6a"/>
<circle cx="349.9" cy="1340.8" r="0.45" fill="#c48a6a"/>
<circle cx="353.4" cy="1343.1" r="0.45" fill="#c48a6a"/>
<circle cx="356.8" cy="1345.4" r="0.45" fill="#c48a6a"/>
<circle cx="350.3" cy="1336.2" r="0.45" fill="#c48a6a"/>
<circle cx="353.8" cy="1338.5" r="0.45" fill="#c48a6a"/>
<circle cx="357.3" cy="1340.8" r="0.45" fill="#c48a6a"/>
<circle cx="360.8" cy="1343.2" r="0.45" fill="#c48a6a"/>
<polygon points="274,1406.5 409,1335.3 412.2,1348.5 279.7,1424.7" fill="#6d7176"/>
<polygon points="274.3,1406.6 276.6,1403.1 279.3,1403.4 282.7,1414.3 277.5,1417.2" fill="#f6f6f6"/>
<polygon points="279.3,1403.4 280.2,1403.6 283.6,1414.3 282.7,1414.3" fill="#c5c8cc"/>
<polygon points="281.4,1402.9 283.7,1399.4 286.4,1399.7 289.8,1410.4 284.6,1413.3" fill="#f6f6f6"/>
<polygon points="286.4,1399.7 287.3,1399.9 290.7,1410.4 289.8,1410.4" fill="#c5c8cc"/>
<polygon points="288.5,1399.1 290.8,1395.6 293.5,1395.9 296.8,1406.5 291.6,1409.4" fill="#f6f6f6"/>
<polygon points="293.5,1395.9 294.4,1396.1 297.7,1406.5 296.8,1406.5" fill="#c5c8cc"/>
<polygon points="295.6,1395.4 297.9,1391.9 300.6,1392.2 303.8,1402.6 298.6,1405.5" fill="#f6f6f6"/>
<polygon points="300.6,1392.2 301.5,1392.4 304.7,1402.6 303.8,1402.6" fill="#c5c8cc"/>
<polygon points="302.7,1391.6 305.1,1388.1 307.7,1388.4 310.8,1398.7 305.6,1401.6" fill="#f6f6f6"/>
<polygon points="307.7,1388.4 308.6,1388.6 311.7,1398.7 310.8,1398.7" fill="#c5c8cc"/>
<polygon points="309.8,1387.9 312.2,1384.4 314.8,1384.7 317.8,1394.8 312.7,1397.7" fill="#f6f6f6"/>
<polygon points="314.8,1384.7 315.7,1384.9 318.7,1394.8 317.8,1394.8" fill="#c5c8cc"/>
<polygon points="316.9,1384.1 319.3,1380.6 321.9,1380.9 324.9,1390.9 319.7,1393.8" fill="#f6f6f6"/>
<polygon points="321.9,1380.9 322.8,1381.1 325.8,1390.9 324.9,1390.9" fill="#c5c8cc"/>
<polygon points="324,1380.4 326.4,1376.9 329,1377.2 331.9,1386.9 326.7,1389.8" fill="#f6f6f6"/>
<polygon points="329,1377.2 329.9,1377.4 332.8,1386.9 331.9,1386.9" fill="#c5c8cc"/>
<polygon points="331.1,1376.6 333.5,1373.1 336.1,1373.4 338.9,1383 333.7,1385.9" fill="#f6f6f6"/>
<polygon points="336.1,1373.4 337,1373.6 339.8,1383 338.9,1383" fill="#c5c8cc"/>
<polygon points="338.2,1372.9 340.6,1369.4 343.2,1369.7 345.9,1379.1 340.7,1382" fill="#f6f6f6"/>
<polygon points="343.2,1369.7 344.1,1369.9 346.8,1379.1 345.9,1379.1" fill="#c5c8cc"/>
<polygon points="345.4,1369.1 347.7,1365.6 350.3,1366 353,1375.2 347.8,1378.1" fill="#f6f6f6"/>
<polygon points="350.3,1366 351.2,1366.2 353.9,1375.2 353,1375.2" fill="#c5c8cc"/>
<polygon points="352.5,1365.4 354.8,1361.9 357.4,1362.2 360,1371.3 354.8,1374.2" fill="#f6f6f6"/>
<polygon points="357.4,1362.2 358.3,1362.4 360.9,1371.3 360,1371.3" fill="#c5c8cc"/>
<polygon points="359.6,1361.6 361.9,1358.1 364.5,1358.5 367,1367.4 361.8,1370.3" fill="#f6f6f6"/>
<polygon points="364.5,1358.5 365.4,1358.7 367.9,1367.4 367,1367.4" fill="#c5c8cc"/>
<polygon points="366.7,1357.9 369,1354.4 371.6,1354.7 374,1363.5 368.8,1366.4" fill="#f6f6f6"/>
<polygon points="371.6,1354.7 372.5,1354.9 374.9,1363.5 374,1363.5" fill="#c5c8cc"/>
<polygon points="373.8,1354.1 376.1,1350.7 378.7,1351 381.1,1359.6 375.9,1362.5" fill="#f6f6f6"/>
<polygon points="378.7,1351 379.6,1351.2 382,1359.6 381.1,1359.6" fill="#c5c8cc"/>
<polygon points="380.9,1350.4 383.2,1346.9 385.8,1347.2 388.1,1355.7 382.9,1358.6" fill="#f6f6f6"/>
<polygon points="385.8,1347.2 386.7,1347.4 389,1355.7 388.1,1355.7" fill="#c5c8cc"/>
<polygon points="388,1346.6 390.3,1343.2 392.9,1343.5 395.1,1351.8 389.9,1354.6" fill="#f6f6f6"/>
<polygon points="392.9,1343.5 393.8,1343.7 396,1351.8 395.1,1351.8" fill="#c5c8cc"/>
<polygon points="395.1,1342.9 397.4,1339.4 400,1339.7 402.1,1347.8 396.9,1350.7" fill="#f6f6f6"/>
<polygon points="400,1339.7 400.9,1339.9 403,1347.8 402.1,1347.8" fill="#c5c8cc"/>
<polygon points="402.2,1339.1 404.5,1335.7 407.2,1336 409.2,1343.9 404,1346.8" fill="#f6f6f6"/>
<polygon points="407.2,1336 408.1,1336.2 410.1,1343.9 409.2,1343.9" fill="#c5c8cc"/>
<polygon points="277.5,1417.2 411,1342.9 412.2,1348.5 279.7,1424.7" fill="#f3f3f4"/>
<polygon points="274,1406.8 272,1408.2 276.6,1424.8 279.7,1423.7" fill="#d0d3d7"/>
<polygon points="211.1,1446.2 255.6,1422.8 255.9,1436.6 224,1459.3" fill="#6d7176"/>
<polygon points="211.4,1446.3 213.8,1442.8 216.6,1443 223.6,1450.9 219.1,1453.8" fill="#f6f6f6"/>
<polygon points="216.6,1443 217.5,1443.2 224.5,1450.9 223.6,1450.9" fill="#c5c8cc"/>
<polygon points="218.8,1442.4 221.3,1438.9 224,1439.1 229.7,1447.1 225.2,1449.9" fill="#f6f6f6"/>
<polygon points="224,1439.1 224.9,1439.3 230.6,1447.1 229.7,1447.1" fill="#c5c8cc"/>
<polygon points="226.2,1438.5 228.7,1435 231.4,1435.2 235.9,1443.3 231.3,1446.1" fill="#f6f6f6"/>
<polygon points="231.4,1435.2 232.3,1435.4 236.8,1443.3 235.9,1443.3" fill="#c5c8cc"/>
<polygon points="233.7,1434.6 236.1,1431.1 238.8,1431.3 242,1439.4 237.4,1442.3" fill="#f6f6f6"/>
<polygon points="238.8,1431.3 239.7,1431.5 242.9,1439.4 242,1439.4" fill="#c5c8cc"/>
<polygon points="241.1,1430.7 243.5,1427.2 246.3,1427.4 248.1,1435.6 243.6,1438.4" fill="#f6f6f6"/>
<polygon points="246.3,1427.4 247.2,1427.6 249,1435.6 248.1,1435.6" fill="#c5c8cc"/>
<polygon points="248.5,1426.8 250.9,1423.3 253.7,1423.5 254.2,1431.8 249.7,1434.6" fill="#f6f6f6"/>
<polygon points="253.7,1423.5 254.6,1423.7 255.1,1431.8 254.2,1431.8" fill="#c5c8cc"/>
<polygon points="219.1,1453.8 255.8,1430.8 255.9,1436.6 224,1459.3" fill="#f1f1f2"/>
<polygon points="255.6,1422.2 257.4,1423 257.7,1435.6 255.9,1436.6" fill="#c9ccd0"/>
</g>
<g stroke="#4a70a8" stroke-width="3" fill="none">
<circle cx="708.5" cy="629.3" r="134.3"/>
<circle cx="272.8" cy="873" r="134.3"/>
<circle cx="667.7" cy="1092.4" r="134.3"/>
<circle cx="279.2" cy="1339.2" r="134.3"/>
</g>
</svg>
<div class="abs badge">金佳佰业</div>
<div class="abs title">产品细节</div>

<div class="abs h r" style="right:440.5px;top:556px;">镀金针脚</div>
<div class="abs p r" style="right:447.5px;top:601px;">整体镀镍后再镀金层，接触更稳定<br>传输速度更快，更耐氧化</div>

<div class="abs h" style="left:439px;top:817px;"><span style="-webkit-text-stroke:0.7px #111;letter-spacing:-0.3px">IDC</span>端子</div>
<div class="abs p" style="left:442px;top:864px;">聚碳酸酯打线柱及磷青铜打线架子，保证<br>线缆轻易卡破，从而提供导体的接触及传<br>输性能</div>

<div class="abs h r" style="right:484.5px;top:1056px;">标准线序</div>
<div class="abs p r" style="right:492.5px;top:1102.5px;">采用符合行业标准，提供<span class="l">568A/568B</span><br>两种打线线序<span class="l">(</span>通常采用<span class="l">568B</span>打线方式<span class="l">)</span></div>

<div class="abs h" style="left:440px;top:1312.5px;">后置理线环</div>
<div class="abs p" style="left:442.5px;top:1358px;">配线架后端均自带理线环，便于线缆捆扎<br>固定及保证整体机柜线缆的检修方便和整<br>体美观</div>
</body>
</html>
